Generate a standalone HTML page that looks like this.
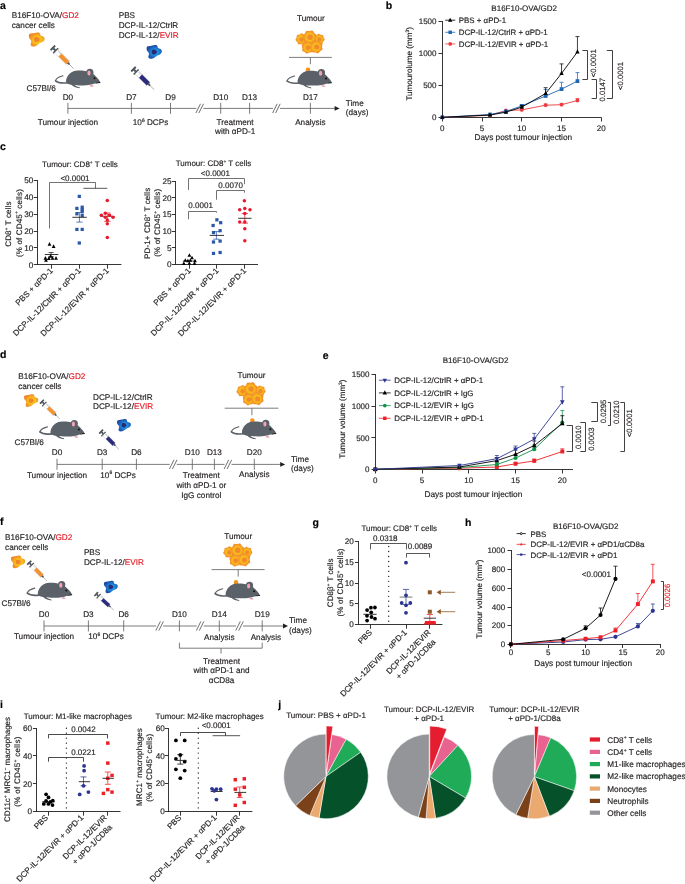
<!DOCTYPE html>
<html><head><meta charset="utf-8"><style>
html,body{margin:0;padding:0;background:#fff;overflow:hidden;}
svg{display:block;will-change:transform;}
text{font-family:"Liberation Sans",sans-serif;text-rendering:geometricPrecision;}
</style></head><body>
<svg width="685" height="884" viewBox="0 0 685 884" font-family="Liberation Sans, sans-serif" fill="#231f20">
<defs>
<radialGradient id="gOr" cx="0.55" cy="0.53" r="0.58"><stop offset="0" stop-color="#f6a81e"/><stop offset="0.28" stop-color="#f9bd1b"/><stop offset="0.45" stop-color="#f9c01a"/><stop offset="0.68" stop-color="#f59f22"/><stop offset="0.9" stop-color="#f0892a"/><stop offset="1" stop-color="#ee812a"/></radialGradient>
<radialGradient id="gBl" cx="0.55" cy="0.53" r="0.58"><stop offset="0" stop-color="#1a86d8"/><stop offset="0.35" stop-color="#1e92e0"/><stop offset="0.6" stop-color="#1d6fc6"/><stop offset="0.85" stop-color="#1b52ac"/><stop offset="1" stop-color="#1a45a0"/></radialGradient>
<radialGradient id="gTu" cx="0.5" cy="0.5" r="0.5"><stop offset="0" stop-color="#f4a020"/><stop offset="0.42" stop-color="#f9bd1a"/><stop offset="0.62" stop-color="#f8b21c"/><stop offset="0.82" stop-color="#f39627"/><stop offset="1" stop-color="#f08a2c"/></radialGradient>
</defs>
<text x="0.00" y="8.80" font-size="10.50" fill="#000" stroke="#000" stroke-width="0.16" font-weight="bold">a</text>
<text x="11.70" y="18.20" font-size="8.20" stroke="#231f20" stroke-width="0.16">B16F10-OVA/<tspan fill="#e41e2b" stroke="#e41e2b">GD2</tspan></text>
<text x="11.70" y="27.70" font-size="8.20" stroke="#231f20" stroke-width="0.16">cancer cells</text>
<path d="M28.90,35.10 C29.08,34.73 29.33,34.10 30.00,33.80 C30.67,33.50 31.88,33.48 32.90,33.30 C33.92,33.12 35.18,32.83 36.10,32.70 C37.02,32.57 37.75,32.37 38.40,32.50 C39.05,32.63 39.63,33.00 40.00,33.50 C40.37,34.00 40.07,35.00 40.60,35.50 C41.13,36.00 42.55,36.08 43.20,36.50 C43.85,36.92 44.32,37.38 44.50,38.00 C44.68,38.62 44.57,39.57 44.30,40.20 C44.03,40.83 43.62,41.32 42.90,41.80 C42.18,42.28 40.85,42.62 40.00,43.10 C39.15,43.58 38.50,44.22 37.80,44.70 C37.10,45.18 36.62,45.68 35.80,46.00 C34.98,46.32 33.70,46.63 32.90,46.60 C32.10,46.57 31.37,46.28 31.00,45.80 C30.63,45.32 30.65,44.37 30.70,43.70 C30.75,43.03 31.30,42.43 31.30,41.80 C31.30,41.17 31.05,40.53 30.70,39.90 C30.35,39.27 29.50,38.65 29.20,38.00 C28.90,37.35 28.95,36.48 28.90,36.00 C28.85,35.52 28.72,35.47 28.90,35.10 Z" fill="url(#gOr)" stroke="none" stroke-width="0.70"/>
<path d="M34.30,37.80 C34.78,37.07 36.62,36.93 37.50,37.20 C38.38,37.47 39.57,38.63 39.60,39.40 C39.63,40.17 38.53,41.43 37.70,41.80 C36.87,42.17 35.17,42.27 34.60,41.60 C34.03,40.93 33.82,38.53 34.30,37.80 Z" fill="#f08529" stroke="none" stroke-width="0.70"/>
<g transform="translate(52.60 47.60) rotate(45.00) scale(0.990)"><rect x="-0.6" y="-3.3" width="2.0" height="6.6" rx="0.5" fill="#4b5157"/><rect x="1.2" y="-1.0" width="2.6" height="2.0" fill="#4b5157"/><rect x="3.6" y="-3.6" width="1.6" height="7.2" rx="0.4" fill="#4b5157"/><rect x="5.2" y="-2.4" width="16.6" height="4.8" fill="#fff" stroke="#b9bec3" stroke-width="0.45"/><rect x="10.5" y="-2.2" width="11.2" height="4.4" fill="#f39232"/><line x1="6.8" y1="-2.3" x2="6.8" y2="-0.6" stroke="#555" stroke-width="0.35"/><line x1="8.3" y1="-2.3" x2="8.3" y2="-0.6" stroke="#555" stroke-width="0.35"/><line x1="9.8" y1="-2.3" x2="9.8" y2="-0.6" stroke="#555" stroke-width="0.35"/><path d="M21.8,-1.3 L24.4,-0.6 L24.4,0.6 L21.8,1.3 Z" fill="#4b5157"/><line x1="24.3" y1="0" x2="30" y2="0" stroke="#6a7075" stroke-width="0.55"/></g>
<g transform="translate(100.30 82.40)"><path d="M-33,0.4 C-37,0.9 -42.5,0.4 -44.8,-1.6" fill="none" stroke="#5b6168" stroke-width="1.6" stroke-linecap="round"/><path d="M-44.8,-1.6 C-44.4,-3.6 -40.5,-5.8 -37.3,-6.6" fill="none" stroke="#5b6168" stroke-width="1.1" stroke-linecap="round"/><path d="M0,0 C-0.8,-1.8 -2.0,-3.6 -3.2,-4.6 C-5,-6.6 -7,-8.6 -9.5,-9.8 C-13,-11.4 -18,-12.0 -23,-11.9 C-27.5,-11.6 -30.8,-9.3 -32.6,-6.4 C-34.2,-3.8 -34.6,-1.2 -34.0,0.6 C-31,2.6 -25,3.0 -18,3.0 C-12,3.0 -8,2.2 -5.6,1.2 C-3.5,0.6 -1.5,0.3 0,0 Z" fill="#5b6168"/><path d="M-29.5,1.5 C-27.5,4.2 -24.5,5.4 -20.5,5.8 L-20.8,4.7 C-23.5,4.3 -25.5,3.2 -26.3,1.8 Z" fill="#5b6168"/><circle cx="-10.4" cy="-10.0" r="3.6" fill="#5b6168"/><ellipse cx="-11.3" cy="-9.4" rx="1.6" ry="2.5" fill="#f0a3b4"/><circle cx="-5.8" cy="-4.1" r="1.0" fill="#111"/><path d="M-4.6,0.5 L-0.4,-0.4 L0.3,0.1 L-0.2,0.6 L-4.6,1.0 Z" fill="#111"/><ellipse cx="-8.6" cy="3.4" rx="2.0" ry="0.85" fill="#f0a3b4" transform="rotate(12 -8.6 3.4)"/></g>
<text x="26.60" y="90.90" font-size="8.20" stroke="#231f20" stroke-width="0.16">C57Bl/6</text>
<text x="118.70" y="17.80" font-size="8.20" stroke="#231f20" stroke-width="0.16">PBS</text>
<text x="118.70" y="27.70" font-size="8.20" stroke="#231f20" stroke-width="0.16">DCP-IL-12/CtrlR</text>
<text x="118.70" y="37.70" font-size="8.20" stroke="#231f20" stroke-width="0.16">DCP-IL-12/<tspan fill="#e41e2b" stroke="#e41e2b">EVIR</tspan></text>
<path d="M146.64,47.63 C146.82,47.28 147.06,46.66 147.71,46.37 C148.35,46.08 149.53,46.07 150.52,45.89 C151.51,45.71 152.73,45.44 153.62,45.31 C154.51,45.18 155.22,44.98 155.86,45.11 C156.49,45.24 157.05,45.60 157.41,46.08 C157.76,46.57 157.47,47.54 157.99,48.02 C158.51,48.51 159.88,48.59 160.51,48.99 C161.14,49.40 161.59,49.85 161.77,50.45 C161.95,51.05 161.84,51.97 161.58,52.58 C161.32,53.20 160.92,53.67 160.22,54.13 C159.52,54.60 158.23,54.93 157.41,55.40 C156.58,55.86 155.95,56.48 155.27,56.95 C154.59,57.42 154.13,57.90 153.33,58.21 C152.54,58.52 151.30,58.82 150.52,58.79 C149.74,58.76 149.03,58.48 148.68,58.01 C148.32,57.55 148.34,56.62 148.39,55.98 C148.43,55.33 148.97,54.75 148.97,54.13 C148.97,53.52 148.73,52.91 148.39,52.29 C148.05,51.68 147.22,51.08 146.93,50.45 C146.64,49.82 146.69,48.98 146.64,48.51 C146.59,48.04 146.46,47.99 146.64,47.63 Z" fill="url(#gBl)" stroke="none" stroke-width="0.70"/>
<path d="M151.88,50.25 C152.35,49.54 154.13,49.41 154.98,49.67 C155.84,49.93 156.99,51.06 157.02,51.81 C157.05,52.55 155.98,53.78 155.18,54.13 C154.37,54.49 152.72,54.59 152.17,53.94 C151.62,53.29 151.41,50.97 151.88,50.25 Z" fill="#2b2a78" stroke="none" stroke-width="0.70"/>
<g transform="translate(133.20 68.90) rotate(44.72) scale(0.981)"><rect x="-0.6" y="-3.3" width="2.0" height="6.6" rx="0.5" fill="#4b5157"/><rect x="1.2" y="-1.0" width="2.6" height="2.0" fill="#4b5157"/><rect x="3.6" y="-3.6" width="1.6" height="7.2" rx="0.4" fill="#4b5157"/><rect x="5.2" y="-2.4" width="16.6" height="4.8" fill="#fff" stroke="#b9bec3" stroke-width="0.45"/><rect x="10.5" y="-2.2" width="11.2" height="4.4" fill="#2b2a7c"/><line x1="6.8" y1="-2.3" x2="6.8" y2="-0.6" stroke="#555" stroke-width="0.35"/><line x1="8.3" y1="-2.3" x2="8.3" y2="-0.6" stroke="#555" stroke-width="0.35"/><line x1="9.8" y1="-2.3" x2="9.8" y2="-0.6" stroke="#555" stroke-width="0.35"/><path d="M21.8,-1.3 L24.4,-0.6 L24.4,0.6 L21.8,1.3 Z" fill="#4b5157"/><line x1="24.3" y1="0" x2="30" y2="0" stroke="#6a7075" stroke-width="0.55"/></g>
<line x1="67.90" y1="108.40" x2="336.00" y2="108.40" stroke="#636466" stroke-width="0.85"/>
<path d="M339.60,108.40 L334.60,106.00 L334.60,110.80 Z" fill="#231f20" stroke="none" stroke-width="0.70"/>
<line x1="67.90" y1="102.80" x2="67.90" y2="113.80" stroke="#636466" stroke-width="0.85"/>
<text x="67.90" y="99.50" font-size="8.20" text-anchor="middle" stroke="#231f20" stroke-width="0.16">D0</text>
<line x1="131.40" y1="102.80" x2="131.40" y2="113.80" stroke="#636466" stroke-width="0.85"/>
<text x="131.40" y="99.50" font-size="8.20" text-anchor="middle" stroke="#231f20" stroke-width="0.16">D7</text>
<line x1="170.50" y1="102.80" x2="170.50" y2="113.80" stroke="#636466" stroke-width="0.85"/>
<text x="170.50" y="99.50" font-size="8.20" text-anchor="middle" stroke="#231f20" stroke-width="0.16">D9</text>
<line x1="220.70" y1="102.80" x2="220.70" y2="113.80" stroke="#636466" stroke-width="0.85"/>
<text x="220.70" y="99.50" font-size="8.20" text-anchor="middle" stroke="#231f20" stroke-width="0.16">D10</text>
<line x1="249.60" y1="102.80" x2="249.60" y2="113.80" stroke="#636466" stroke-width="0.85"/>
<text x="249.60" y="99.50" font-size="8.20" text-anchor="middle" stroke="#231f20" stroke-width="0.16">D13</text>
<line x1="310.40" y1="102.80" x2="310.40" y2="113.80" stroke="#636466" stroke-width="0.85"/>
<text x="310.40" y="99.50" font-size="8.20" text-anchor="middle" stroke="#231f20" stroke-width="0.16">D17</text>
<rect x="196.30" y="107.40" width="7.00" height="2.00" fill="#fff"/>
<line x1="195.90" y1="113.00" x2="200.50" y2="103.80" stroke="#4a4b4d" stroke-width="0.80"/>
<line x1="198.90" y1="113.00" x2="203.50" y2="103.80" stroke="#4a4b4d" stroke-width="0.80"/>
<rect x="273.00" y="107.40" width="7.00" height="2.00" fill="#fff"/>
<line x1="272.60" y1="113.00" x2="277.20" y2="103.80" stroke="#4a4b4d" stroke-width="0.80"/>
<line x1="275.60" y1="113.00" x2="280.20" y2="103.80" stroke="#4a4b4d" stroke-width="0.80"/>
<text x="67.90" y="124.70" font-size="8.20" text-anchor="middle" stroke="#231f20" stroke-width="0.16">Tumour injection</text>
<text x="132.80" y="125.00" font-size="8.20" stroke="#231f20" stroke-width="0.16">10<tspan dy="-3.12" font-size="4.92">6</tspan><tspan dy="3.12"> DCPs</tspan></text>
<text x="235.10" y="124.50" font-size="8.20" text-anchor="middle" stroke="#231f20" stroke-width="0.16">Treatment</text>
<text x="235.10" y="134.00" font-size="8.20" text-anchor="middle" stroke="#231f20" stroke-width="0.16">with αPD-1</text>
<text x="310.40" y="124.90" font-size="8.20" text-anchor="middle" stroke="#231f20" stroke-width="0.16">Analysis</text>
<text x="345.80" y="105.90" font-size="8.20" stroke="#231f20" stroke-width="0.16">Time</text>
<text x="345.80" y="115.40" font-size="8.20" stroke="#231f20" stroke-width="0.16">(days)</text>
<text x="310.90" y="21.40" font-size="8.20" text-anchor="middle" stroke="#231f20" stroke-width="0.16">Tumour</text>
<path d="M307.07,40.96 C306.86,41.66 305.70,42.03 305.12,42.66 C304.53,43.28 304.25,44.46 303.57,44.73 C302.88,45.00 301.87,44.33 301.02,44.26 C300.16,44.20 299.06,44.71 298.43,44.34 C297.79,43.97 297.69,42.77 297.20,42.06 C296.72,41.35 295.63,40.81 295.53,40.08 C295.42,39.35 296.30,38.52 296.55,37.70 C296.80,36.88 296.55,35.69 297.05,35.16 C297.55,34.62 298.75,34.79 299.55,34.47 C300.35,34.16 301.12,33.22 301.85,33.28 C302.58,33.33 303.20,34.38 303.94,34.81 C304.69,35.24 305.90,35.25 306.31,35.86 C306.72,36.46 306.29,37.60 306.42,38.45 C306.55,39.30 307.29,40.25 307.07,40.96 Z" fill="url(#gTu)" stroke="none" stroke-width="0.70"/>
<circle cx="301.70" cy="39.40" r="2.27" fill="#f18a2b"/>
<path d="M322.17,43.83 C321.60,44.20 320.56,43.77 319.77,43.87 C318.98,43.96 318.08,44.63 317.43,44.41 C316.79,44.19 316.48,43.11 315.91,42.56 C315.34,42.00 314.26,41.71 314.03,41.07 C313.80,40.43 314.44,39.51 314.52,38.72 C314.61,37.93 314.16,36.90 314.51,36.32 C314.87,35.74 315.99,35.67 316.66,35.25 C317.33,34.82 317.86,33.82 318.53,33.74 C319.21,33.66 319.96,34.49 320.71,34.75 C321.46,35.00 322.57,34.80 323.05,35.27 C323.54,35.75 323.35,36.86 323.62,37.60 C323.89,38.35 324.74,39.09 324.67,39.76 C324.60,40.44 323.62,40.98 323.20,41.66 C322.79,42.34 322.74,43.46 322.17,43.83 Z" fill="url(#gTu)" stroke="none" stroke-width="0.70"/>
<circle cx="319.50" cy="39.40" r="2.10" fill="#f18a2b"/>
<path d="M306.81,53.61 C306.05,53.51 305.47,52.40 304.72,51.91 C303.98,51.42 302.72,51.34 302.33,50.69 C301.94,50.04 302.44,48.89 302.36,48.00 C302.28,47.11 301.56,46.08 301.82,45.37 C302.08,44.65 303.30,44.33 303.94,43.72 C304.58,43.10 304.94,41.89 305.66,41.65 C306.39,41.41 307.39,42.17 308.28,42.28 C309.16,42.39 310.33,41.92 310.97,42.34 C311.60,42.76 311.64,44.01 312.10,44.78 C312.57,45.54 313.66,46.16 313.73,46.91 C313.80,47.67 312.85,48.49 312.54,49.32 C312.23,50.16 312.43,51.40 311.88,51.93 C311.33,52.46 310.10,52.22 309.25,52.50 C308.41,52.78 307.56,53.71 306.81,53.61 Z" fill="url(#gTu)" stroke="none" stroke-width="0.70"/>
<circle cx="307.90" cy="47.70" r="2.35" fill="#f18a2b"/>
<path d="M304.61,41.76 C304.02,41.11 304.33,39.71 304.04,38.74 C303.75,37.76 302.71,36.77 302.85,35.91 C302.98,35.05 304.27,34.42 304.85,33.58 C305.43,32.74 305.56,31.31 306.32,30.88 C307.08,30.45 308.37,31.07 309.39,31.00 C310.40,30.93 311.61,30.14 312.41,30.46 C313.22,30.79 313.55,32.19 314.24,32.94 C314.92,33.69 316.29,34.14 316.54,34.97 C316.79,35.80 315.90,36.93 315.74,37.93 C315.58,38.94 316.09,40.29 315.59,41.00 C315.10,41.72 313.66,41.73 312.77,42.23 C311.89,42.73 311.15,43.96 310.28,44.02 C309.41,44.08 308.51,42.96 307.57,42.59 C306.62,42.21 305.20,42.40 304.61,41.76 Z" fill="url(#gTu)" stroke="none" stroke-width="0.70"/>
<circle cx="310.10" cy="37.20" r="2.69" fill="#f18a2b"/>
<path d="M309.81,47.17 C309.77,46.36 310.84,45.54 311.22,44.67 C311.60,43.79 311.46,42.45 312.07,41.92 C312.69,41.38 314.00,41.71 314.92,41.46 C315.84,41.21 316.80,40.26 317.60,40.41 C318.40,40.56 318.96,41.78 319.73,42.35 C320.50,42.91 321.84,43.07 322.22,43.79 C322.61,44.51 322.00,45.71 322.04,46.67 C322.07,47.62 322.78,48.76 322.46,49.51 C322.14,50.26 320.82,50.53 320.10,51.16 C319.38,51.79 318.92,53.05 318.13,53.27 C317.35,53.48 316.31,52.62 315.37,52.45 C314.44,52.27 313.16,52.71 312.50,52.23 C311.84,51.75 311.87,50.40 311.42,49.56 C310.98,48.71 309.84,47.99 309.81,47.17 Z" fill="url(#gTu)" stroke="none" stroke-width="0.70"/>
<circle cx="316.70" cy="47.10" r="2.52" fill="#f18a2b"/>
<line x1="289.00" y1="57.40" x2="331.80" y2="57.40" stroke="#636466" stroke-width="0.85"/>
<line x1="310.40" y1="57.40" x2="310.40" y2="64.20" stroke="#636466" stroke-width="0.85"/>
<g transform="translate(331.85 82.60)"><path d="M-33,0.4 C-37,0.9 -42.5,0.4 -44.8,-1.6" fill="none" stroke="#5b6168" stroke-width="1.6" stroke-linecap="round"/><path d="M-44.8,-1.6 C-44.4,-3.6 -40.5,-5.8 -37.3,-6.6" fill="none" stroke="#5b6168" stroke-width="1.1" stroke-linecap="round"/><circle cx="-23.9" cy="-12.9" r="2.3" fill="#f7941d"/><path d="M0,0 C-0.8,-1.8 -2.0,-3.6 -3.2,-4.6 C-5,-6.6 -7,-8.6 -9.5,-9.8 C-13,-11.4 -18,-12.0 -23,-11.9 C-27.5,-11.6 -30.8,-9.3 -32.6,-6.4 C-34.2,-3.8 -34.6,-1.2 -34.0,0.6 C-31,2.6 -25,3.0 -18,3.0 C-12,3.0 -8,2.2 -5.6,1.2 C-3.5,0.6 -1.5,0.3 0,0 Z" fill="#5b6168"/><path d="M-29.5,1.5 C-27.5,4.2 -24.5,5.4 -20.5,5.8 L-20.8,4.7 C-23.5,4.3 -25.5,3.2 -26.3,1.8 Z" fill="#5b6168"/><circle cx="-10.4" cy="-10.0" r="3.6" fill="#5b6168"/><ellipse cx="-11.3" cy="-9.4" rx="1.6" ry="2.5" fill="#f0a3b4"/><circle cx="-5.8" cy="-4.1" r="1.0" fill="#111"/><path d="M-4.6,0.5 L-0.4,-0.4 L0.3,0.1 L-0.2,0.6 L-4.6,1.0 Z" fill="#111"/><ellipse cx="-8.6" cy="3.4" rx="2.0" ry="0.85" fill="#f0a3b4" transform="rotate(12 -8.6 3.4)"/></g>
<text x="0.00" y="358.20" font-size="10.50" fill="#000" stroke="#000" stroke-width="0.16" font-weight="bold">d</text>
<text x="18.20" y="378.70" font-size="8.20" stroke="#231f20" stroke-width="0.16">B16F10-OVA/<tspan fill="#e41e2b" stroke="#e41e2b">GD2</tspan></text>
<text x="18.20" y="388.50" font-size="8.20" stroke="#231f20" stroke-width="0.16">cancer cells</text>
<path d="M24.10,396.55 C24.27,396.22 24.49,395.65 25.09,395.38 C25.69,395.11 26.79,395.10 27.70,394.93 C28.61,394.76 29.76,394.51 30.58,394.39 C31.41,394.27 32.06,394.09 32.65,394.21 C33.23,394.33 33.76,394.66 34.09,395.11 C34.42,395.56 34.15,396.46 34.63,396.91 C35.11,397.36 36.38,397.44 36.97,397.81 C37.55,398.19 37.98,398.61 38.14,399.16 C38.30,399.72 38.20,400.57 37.96,401.14 C37.72,401.71 37.34,402.15 36.70,402.58 C36.06,403.02 34.86,403.31 34.09,403.75 C33.33,404.19 32.74,404.75 32.11,405.19 C31.48,405.62 31.05,406.07 30.31,406.36 C29.58,406.65 28.42,406.93 27.70,406.90 C26.98,406.87 26.32,406.62 25.99,406.18 C25.66,405.75 25.67,404.89 25.72,404.29 C25.77,403.69 26.26,403.15 26.26,402.58 C26.26,402.01 26.04,401.44 25.72,400.87 C25.40,400.30 24.64,399.75 24.37,399.16 C24.10,398.58 24.15,397.80 24.10,397.36 C24.05,396.93 23.94,396.88 24.10,396.55 Z" fill="url(#gOr)" stroke="none" stroke-width="0.70"/>
<path d="M28.96,398.98 C29.39,398.32 31.04,398.20 31.84,398.44 C32.63,398.68 33.70,399.73 33.73,400.42 C33.76,401.11 32.77,402.25 32.02,402.58 C31.27,402.91 29.74,403.00 29.23,402.40 C28.72,401.80 28.53,399.64 28.96,398.98 Z" fill="#f08529" stroke="none" stroke-width="0.70"/>
<g transform="translate(41.70 401.50) rotate(43.87) scale(0.837)"><rect x="-0.6" y="-3.3" width="2.0" height="6.6" rx="0.5" fill="#4b5157"/><rect x="1.2" y="-1.0" width="2.6" height="2.0" fill="#4b5157"/><rect x="3.6" y="-3.6" width="1.6" height="7.2" rx="0.4" fill="#4b5157"/><rect x="5.2" y="-2.4" width="16.6" height="4.8" fill="#fff" stroke="#b9bec3" stroke-width="0.45"/><rect x="10.5" y="-2.2" width="11.2" height="4.4" fill="#f39232"/><line x1="6.8" y1="-2.3" x2="6.8" y2="-0.6" stroke="#555" stroke-width="0.35"/><line x1="8.3" y1="-2.3" x2="8.3" y2="-0.6" stroke="#555" stroke-width="0.35"/><line x1="9.8" y1="-2.3" x2="9.8" y2="-0.6" stroke="#555" stroke-width="0.35"/><path d="M21.8,-1.3 L24.4,-0.6 L24.4,0.6 L21.8,1.3 Z" fill="#4b5157"/><line x1="24.3" y1="0" x2="30" y2="0" stroke="#6a7075" stroke-width="0.55"/></g>
<g transform="translate(84.70 433.50)"><path d="M-33,0.4 C-37,0.9 -42.5,0.4 -44.8,-1.6" fill="none" stroke="#5b6168" stroke-width="1.6" stroke-linecap="round"/><path d="M-44.8,-1.6 C-44.4,-3.6 -40.5,-5.8 -37.3,-6.6" fill="none" stroke="#5b6168" stroke-width="1.1" stroke-linecap="round"/><path d="M0,0 C-0.8,-1.8 -2.0,-3.6 -3.2,-4.6 C-5,-6.6 -7,-8.6 -9.5,-9.8 C-13,-11.4 -18,-12.0 -23,-11.9 C-27.5,-11.6 -30.8,-9.3 -32.6,-6.4 C-34.2,-3.8 -34.6,-1.2 -34.0,0.6 C-31,2.6 -25,3.0 -18,3.0 C-12,3.0 -8,2.2 -5.6,1.2 C-3.5,0.6 -1.5,0.3 0,0 Z" fill="#5b6168"/><path d="M-29.5,1.5 C-27.5,4.2 -24.5,5.4 -20.5,5.8 L-20.8,4.7 C-23.5,4.3 -25.5,3.2 -26.3,1.8 Z" fill="#5b6168"/><circle cx="-10.4" cy="-10.0" r="3.6" fill="#5b6168"/><ellipse cx="-11.3" cy="-9.4" rx="1.6" ry="2.5" fill="#f0a3b4"/><circle cx="-5.8" cy="-4.1" r="1.0" fill="#111"/><path d="M-4.6,0.5 L-0.4,-0.4 L0.3,0.1 L-0.2,0.6 L-4.6,1.0 Z" fill="#111"/><ellipse cx="-8.6" cy="3.4" rx="2.0" ry="0.85" fill="#f0a3b4" transform="rotate(12 -8.6 3.4)"/></g>
<text x="14.60" y="444.70" font-size="8.20" stroke="#231f20" stroke-width="0.16">C57Bl/6</text>
<text x="93.00" y="399.70" font-size="8.20" stroke="#231f20" stroke-width="0.16">DCP-IL-12/CtrlR</text>
<text x="93.00" y="409.20" font-size="8.20" stroke="#231f20" stroke-width="0.16">DCP-IL-12/<tspan fill="#e41e2b" stroke="#e41e2b">EVIR</tspan></text>
<path d="M117.06,421.34 C117.22,421.02 117.44,420.46 118.03,420.20 C118.61,419.93 119.69,419.92 120.58,419.76 C121.47,419.59 122.59,419.35 123.40,419.23 C124.20,419.11 124.85,418.93 125.42,419.05 C125.99,419.17 126.51,419.49 126.83,419.93 C127.15,420.37 126.89,421.25 127.36,421.69 C127.83,422.13 129.07,422.21 129.64,422.57 C130.22,422.94 130.63,423.35 130.79,423.89 C130.95,424.43 130.85,425.27 130.61,425.83 C130.38,426.39 130.01,426.81 129.38,427.24 C128.75,427.66 127.58,427.95 126.83,428.38 C126.08,428.81 125.51,429.36 124.89,429.79 C124.28,430.21 123.85,430.65 123.13,430.93 C122.41,431.21 121.28,431.49 120.58,431.46 C119.88,431.43 119.23,431.18 118.91,430.76 C118.59,430.33 118.60,429.49 118.64,428.91 C118.69,428.32 119.17,427.79 119.17,427.24 C119.17,426.68 118.95,426.12 118.64,425.56 C118.34,425.01 117.59,424.46 117.32,423.89 C117.06,423.32 117.10,422.56 117.06,422.13 C117.02,421.71 116.90,421.66 117.06,421.34 Z" fill="url(#gBl)" stroke="none" stroke-width="0.70"/>
<path d="M121.81,423.72 C122.24,423.07 123.85,422.95 124.63,423.19 C125.41,423.42 126.45,424.45 126.48,425.12 C126.51,425.80 125.54,426.91 124.80,427.24 C124.07,427.56 122.57,427.65 122.08,427.06 C121.58,426.47 121.39,424.36 121.81,423.72 Z" fill="#2b2a78" stroke="none" stroke-width="0.70"/>
<g transform="translate(100.90 431.40) rotate(44.84) scale(0.846)"><rect x="-0.6" y="-3.3" width="2.0" height="6.6" rx="0.5" fill="#4b5157"/><rect x="1.2" y="-1.0" width="2.6" height="2.0" fill="#4b5157"/><rect x="3.6" y="-3.6" width="1.6" height="7.2" rx="0.4" fill="#4b5157"/><rect x="5.2" y="-2.4" width="16.6" height="4.8" fill="#fff" stroke="#b9bec3" stroke-width="0.45"/><rect x="10.5" y="-2.2" width="11.2" height="4.4" fill="#2b2a7c"/><line x1="6.8" y1="-2.3" x2="6.8" y2="-0.6" stroke="#555" stroke-width="0.35"/><line x1="8.3" y1="-2.3" x2="8.3" y2="-0.6" stroke="#555" stroke-width="0.35"/><line x1="9.8" y1="-2.3" x2="9.8" y2="-0.6" stroke="#555" stroke-width="0.35"/><path d="M21.8,-1.3 L24.4,-0.6 L24.4,0.6 L21.8,1.3 Z" fill="#4b5157"/><line x1="24.3" y1="0" x2="30" y2="0" stroke="#6a7075" stroke-width="0.55"/></g>
<line x1="57.00" y1="464.40" x2="281.50" y2="464.40" stroke="#636466" stroke-width="0.85"/>
<path d="M285.20,464.40 L280.20,462.00 L280.20,466.80 Z" fill="#231f20" stroke="none" stroke-width="0.70"/>
<line x1="57.00" y1="458.80" x2="57.00" y2="469.80" stroke="#636466" stroke-width="0.85"/>
<text x="57.00" y="455.30" font-size="8.20" text-anchor="middle" stroke="#231f20" stroke-width="0.16">D0</text>
<line x1="102.20" y1="458.80" x2="102.20" y2="469.80" stroke="#636466" stroke-width="0.85"/>
<text x="102.20" y="455.30" font-size="8.20" text-anchor="middle" stroke="#231f20" stroke-width="0.16">D3</text>
<line x1="136.40" y1="458.80" x2="136.40" y2="469.80" stroke="#636466" stroke-width="0.85"/>
<text x="136.40" y="455.30" font-size="8.20" text-anchor="middle" stroke="#231f20" stroke-width="0.16">D6</text>
<line x1="192.30" y1="458.80" x2="192.30" y2="469.80" stroke="#636466" stroke-width="0.85"/>
<text x="192.30" y="455.30" font-size="8.20" text-anchor="middle" stroke="#231f20" stroke-width="0.16">D10</text>
<line x1="214.40" y1="458.80" x2="214.40" y2="469.80" stroke="#636466" stroke-width="0.85"/>
<text x="214.40" y="455.30" font-size="8.20" text-anchor="middle" stroke="#231f20" stroke-width="0.16">D13</text>
<line x1="254.30" y1="458.80" x2="254.30" y2="469.80" stroke="#636466" stroke-width="0.85"/>
<text x="254.30" y="455.30" font-size="8.20" text-anchor="middle" stroke="#231f20" stroke-width="0.16">D20</text>
<rect x="169.80" y="463.40" width="7.00" height="2.00" fill="#fff"/>
<line x1="169.40" y1="469.00" x2="174.00" y2="459.80" stroke="#4a4b4d" stroke-width="0.80"/>
<line x1="172.40" y1="469.00" x2="177.00" y2="459.80" stroke="#4a4b4d" stroke-width="0.80"/>
<rect x="224.50" y="463.40" width="7.00" height="2.00" fill="#fff"/>
<line x1="224.10" y1="469.00" x2="228.70" y2="459.80" stroke="#4a4b4d" stroke-width="0.80"/>
<line x1="227.10" y1="469.00" x2="231.70" y2="459.80" stroke="#4a4b4d" stroke-width="0.80"/>
<text x="57.00" y="477.60" font-size="8.20" text-anchor="middle" stroke="#231f20" stroke-width="0.16">Tumour injection</text>
<text x="100.30" y="477.50" font-size="8.20" stroke="#231f20" stroke-width="0.16">10<tspan dy="-3.12" font-size="4.92">6</tspan><tspan dy="3.12"> DCPs</tspan></text>
<text x="201.30" y="477.60" font-size="8.20" text-anchor="middle" stroke="#231f20" stroke-width="0.16">Treatment</text>
<text x="201.30" y="487.70" font-size="8.20" text-anchor="middle" stroke="#231f20" stroke-width="0.16">with αPD-1 or</text>
<text x="201.30" y="497.60" font-size="8.20" text-anchor="middle" stroke="#231f20" stroke-width="0.16">IgG control</text>
<text x="254.30" y="477.20" font-size="8.20" text-anchor="middle" stroke="#231f20" stroke-width="0.16">Analysis</text>
<text x="291.10" y="461.80" font-size="8.20" stroke="#231f20" stroke-width="0.16">Time</text>
<text x="291.10" y="470.60" font-size="8.20" stroke="#231f20" stroke-width="0.16">(days)</text>
<text x="251.50" y="377.50" font-size="8.20" text-anchor="middle" stroke="#231f20" stroke-width="0.16">Tumour</text>
<path d="M248.07,392.76 C247.86,393.46 246.70,393.83 246.12,394.46 C245.53,395.08 245.25,396.26 244.57,396.53 C243.88,396.80 242.87,396.13 242.02,396.06 C241.16,396.00 240.06,396.51 239.43,396.14 C238.79,395.77 238.69,394.57 238.20,393.86 C237.72,393.15 236.63,392.61 236.53,391.88 C236.42,391.15 237.30,390.32 237.55,389.50 C237.80,388.68 237.55,387.49 238.05,386.96 C238.55,386.42 239.75,386.59 240.55,386.27 C241.35,385.96 242.12,385.02 242.85,385.08 C243.58,385.13 244.20,386.18 244.94,386.61 C245.69,387.04 246.90,387.05 247.31,387.66 C247.72,388.26 247.29,389.40 247.42,390.25 C247.55,391.10 248.29,392.05 248.07,392.76 Z" fill="url(#gTu)" stroke="none" stroke-width="0.70"/>
<circle cx="242.70" cy="391.20" r="2.27" fill="#f18a2b"/>
<path d="M263.17,395.63 C262.60,396.00 261.56,395.57 260.77,395.67 C259.98,395.76 259.08,396.43 258.43,396.21 C257.79,395.99 257.48,394.91 256.91,394.36 C256.34,393.80 255.26,393.51 255.03,392.87 C254.80,392.23 255.44,391.31 255.52,390.52 C255.61,389.73 255.16,388.70 255.51,388.12 C255.87,387.54 256.99,387.47 257.66,387.05 C258.33,386.62 258.86,385.62 259.53,385.54 C260.21,385.46 260.96,386.29 261.71,386.55 C262.46,386.80 263.57,386.60 264.05,387.07 C264.54,387.55 264.35,388.66 264.62,389.40 C264.89,390.15 265.74,390.89 265.67,391.56 C265.60,392.24 264.62,392.78 264.20,393.46 C263.79,394.14 263.74,395.26 263.17,395.63 Z" fill="url(#gTu)" stroke="none" stroke-width="0.70"/>
<circle cx="260.50" cy="391.20" r="2.10" fill="#f18a2b"/>
<path d="M247.81,405.41 C247.05,405.31 246.47,404.20 245.72,403.71 C244.98,403.22 243.72,403.14 243.33,402.49 C242.94,401.84 243.44,400.69 243.36,399.80 C243.28,398.91 242.56,397.88 242.82,397.17 C243.08,396.45 244.30,396.13 244.94,395.52 C245.58,394.90 245.94,393.69 246.66,393.45 C247.39,393.21 248.39,393.97 249.28,394.08 C250.16,394.19 251.33,393.72 251.97,394.14 C252.60,394.56 252.64,395.81 253.10,396.58 C253.57,397.34 254.66,397.96 254.73,398.71 C254.80,399.47 253.85,400.29 253.54,401.12 C253.23,401.96 253.43,403.20 252.88,403.73 C252.33,404.26 251.10,404.02 250.25,404.30 C249.41,404.58 248.56,405.51 247.81,405.41 Z" fill="url(#gTu)" stroke="none" stroke-width="0.70"/>
<circle cx="248.90" cy="399.50" r="2.35" fill="#f18a2b"/>
<path d="M245.61,393.56 C245.02,392.91 245.33,391.51 245.04,390.54 C244.75,389.56 243.71,388.57 243.85,387.71 C243.98,386.85 245.27,386.22 245.85,385.38 C246.43,384.54 246.56,383.11 247.32,382.68 C248.08,382.25 249.37,382.87 250.39,382.80 C251.40,382.73 252.61,381.94 253.41,382.26 C254.22,382.59 254.55,383.99 255.24,384.74 C255.92,385.49 257.29,385.94 257.54,386.77 C257.79,387.60 256.90,388.73 256.74,389.73 C256.58,390.74 257.09,392.09 256.59,392.80 C256.10,393.52 254.66,393.53 253.77,394.03 C252.89,394.53 252.15,395.76 251.28,395.82 C250.41,395.88 249.51,394.76 248.57,394.39 C247.62,394.01 246.20,394.20 245.61,393.56 Z" fill="url(#gTu)" stroke="none" stroke-width="0.70"/>
<circle cx="251.10" cy="389.00" r="2.69" fill="#f18a2b"/>
<path d="M250.81,398.97 C250.77,398.16 251.84,397.34 252.22,396.47 C252.60,395.59 252.46,394.25 253.07,393.72 C253.69,393.18 255.00,393.51 255.92,393.26 C256.84,393.01 257.80,392.06 258.60,392.21 C259.40,392.36 259.96,393.58 260.73,394.15 C261.50,394.71 262.84,394.87 263.22,395.59 C263.61,396.31 263.00,397.51 263.04,398.47 C263.07,399.42 263.78,400.56 263.46,401.31 C263.14,402.06 261.82,402.33 261.10,402.96 C260.38,403.59 259.92,404.85 259.13,405.07 C258.35,405.28 257.31,404.42 256.37,404.25 C255.44,404.07 254.16,404.51 253.50,404.03 C252.84,403.55 252.87,402.20 252.42,401.36 C251.98,400.51 250.84,399.79 250.81,398.97 Z" fill="url(#gTu)" stroke="none" stroke-width="0.70"/>
<circle cx="257.70" cy="398.90" r="2.52" fill="#f18a2b"/>
<line x1="224.70" y1="408.20" x2="278.40" y2="408.20" stroke="#636466" stroke-width="0.85"/>
<line x1="251.90" y1="408.20" x2="251.90" y2="415.20" stroke="#636466" stroke-width="0.85"/>
<g transform="translate(276.20 433.40)"><path d="M-33,0.4 C-37,0.9 -42.5,0.4 -44.8,-1.6" fill="none" stroke="#5b6168" stroke-width="1.6" stroke-linecap="round"/><path d="M-44.8,-1.6 C-44.4,-3.6 -40.5,-5.8 -37.3,-6.6" fill="none" stroke="#5b6168" stroke-width="1.1" stroke-linecap="round"/><circle cx="-23.9" cy="-12.9" r="2.3" fill="#f7941d"/><path d="M0,0 C-0.8,-1.8 -2.0,-3.6 -3.2,-4.6 C-5,-6.6 -7,-8.6 -9.5,-9.8 C-13,-11.4 -18,-12.0 -23,-11.9 C-27.5,-11.6 -30.8,-9.3 -32.6,-6.4 C-34.2,-3.8 -34.6,-1.2 -34.0,0.6 C-31,2.6 -25,3.0 -18,3.0 C-12,3.0 -8,2.2 -5.6,1.2 C-3.5,0.6 -1.5,0.3 0,0 Z" fill="#5b6168"/><path d="M-29.5,1.5 C-27.5,4.2 -24.5,5.4 -20.5,5.8 L-20.8,4.7 C-23.5,4.3 -25.5,3.2 -26.3,1.8 Z" fill="#5b6168"/><circle cx="-10.4" cy="-10.0" r="3.6" fill="#5b6168"/><ellipse cx="-11.3" cy="-9.4" rx="1.6" ry="2.5" fill="#f0a3b4"/><circle cx="-5.8" cy="-4.1" r="1.0" fill="#111"/><path d="M-4.6,0.5 L-0.4,-0.4 L0.3,0.1 L-0.2,0.6 L-4.6,1.0 Z" fill="#111"/><ellipse cx="-8.6" cy="3.4" rx="2.0" ry="0.85" fill="#f0a3b4" transform="rotate(12 -8.6 3.4)"/></g>
<text x="0.00" y="525.40" font-size="10.50" fill="#000" stroke="#000" stroke-width="0.16" font-weight="bold">f</text>
<text x="5.10" y="540.30" font-size="8.20" stroke="#231f20" stroke-width="0.16">B16F10-OVA/<tspan fill="#e41e2b" stroke="#e41e2b">GD2</tspan></text>
<text x="5.10" y="550.00" font-size="8.20" stroke="#231f20" stroke-width="0.16">cancer cells</text>
<path d="M11.00,557.85 C11.16,557.52 11.39,556.95 11.99,556.68 C12.59,556.41 13.68,556.39 14.60,556.23 C15.52,556.07 16.66,555.81 17.48,555.69 C18.30,555.57 18.96,555.39 19.55,555.51 C20.14,555.63 20.66,555.96 20.99,556.41 C21.32,556.86 21.05,557.76 21.53,558.21 C22.01,558.66 23.28,558.74 23.87,559.11 C24.45,559.49 24.88,559.90 25.04,560.46 C25.20,561.01 25.10,561.87 24.86,562.44 C24.62,563.01 24.25,563.44 23.60,563.88 C22.96,564.32 21.75,564.62 20.99,565.05 C20.22,565.48 19.64,566.06 19.01,566.49 C18.38,566.92 17.95,567.38 17.21,567.66 C16.48,567.94 15.32,568.23 14.60,568.20 C13.88,568.17 13.22,567.91 12.89,567.48 C12.56,567.05 12.57,566.19 12.62,565.59 C12.66,564.99 13.16,564.45 13.16,563.88 C13.16,563.31 12.93,562.74 12.62,562.17 C12.30,561.60 11.54,561.04 11.27,560.46 C11.00,559.87 11.04,559.09 11.00,558.66 C10.96,558.23 10.84,558.18 11.00,557.85 Z" fill="url(#gOr)" stroke="none" stroke-width="0.70"/>
<path d="M15.86,560.28 C16.29,559.62 17.95,559.50 18.74,559.74 C19.53,559.98 20.60,561.03 20.63,561.72 C20.66,562.41 19.67,563.55 18.92,563.88 C18.17,564.21 16.64,564.30 16.13,563.70 C15.62,563.10 15.42,560.94 15.86,560.28 Z" fill="#f08529" stroke="none" stroke-width="0.70"/>
<g transform="translate(29.00 562.50) rotate(45.63) scale(0.858)"><rect x="-0.6" y="-3.3" width="2.0" height="6.6" rx="0.5" fill="#4b5157"/><rect x="1.2" y="-1.0" width="2.6" height="2.0" fill="#4b5157"/><rect x="3.6" y="-3.6" width="1.6" height="7.2" rx="0.4" fill="#4b5157"/><rect x="5.2" y="-2.4" width="16.6" height="4.8" fill="#fff" stroke="#b9bec3" stroke-width="0.45"/><rect x="10.5" y="-2.2" width="11.2" height="4.4" fill="#f39232"/><line x1="6.8" y1="-2.3" x2="6.8" y2="-0.6" stroke="#555" stroke-width="0.35"/><line x1="8.3" y1="-2.3" x2="8.3" y2="-0.6" stroke="#555" stroke-width="0.35"/><line x1="9.8" y1="-2.3" x2="9.8" y2="-0.6" stroke="#555" stroke-width="0.35"/><path d="M21.8,-1.3 L24.4,-0.6 L24.4,0.6 L21.8,1.3 Z" fill="#4b5157"/><line x1="24.3" y1="0" x2="30" y2="0" stroke="#6a7075" stroke-width="0.55"/></g>
<g transform="translate(72.10 594.70)"><path d="M-33,0.4 C-37,0.9 -42.5,0.4 -44.8,-1.6" fill="none" stroke="#5b6168" stroke-width="1.6" stroke-linecap="round"/><path d="M-44.8,-1.6 C-44.4,-3.6 -40.5,-5.8 -37.3,-6.6" fill="none" stroke="#5b6168" stroke-width="1.1" stroke-linecap="round"/><path d="M0,0 C-0.8,-1.8 -2.0,-3.6 -3.2,-4.6 C-5,-6.6 -7,-8.6 -9.5,-9.8 C-13,-11.4 -18,-12.0 -23,-11.9 C-27.5,-11.6 -30.8,-9.3 -32.6,-6.4 C-34.2,-3.8 -34.6,-1.2 -34.0,0.6 C-31,2.6 -25,3.0 -18,3.0 C-12,3.0 -8,2.2 -5.6,1.2 C-3.5,0.6 -1.5,0.3 0,0 Z" fill="#5b6168"/><path d="M-29.5,1.5 C-27.5,4.2 -24.5,5.4 -20.5,5.8 L-20.8,4.7 C-23.5,4.3 -25.5,3.2 -26.3,1.8 Z" fill="#5b6168"/><circle cx="-10.4" cy="-10.0" r="3.6" fill="#5b6168"/><ellipse cx="-11.3" cy="-9.4" rx="1.6" ry="2.5" fill="#f0a3b4"/><circle cx="-5.8" cy="-4.1" r="1.0" fill="#111"/><path d="M-4.6,0.5 L-0.4,-0.4 L0.3,0.1 L-0.2,0.6 L-4.6,1.0 Z" fill="#111"/><ellipse cx="-8.6" cy="3.4" rx="2.0" ry="0.85" fill="#f0a3b4" transform="rotate(12 -8.6 3.4)"/></g>
<text x="1.50" y="606.40" font-size="8.20" stroke="#231f20" stroke-width="0.16">C57Bl/6</text>
<text x="83.90" y="555.40" font-size="8.20" stroke="#231f20" stroke-width="0.16">PBS</text>
<text x="83.90" y="564.60" font-size="8.20" stroke="#231f20" stroke-width="0.16">DCP-IL-12/<tspan fill="#e41e2b" stroke="#e41e2b">EVIR</tspan></text>
<path d="M103.96,583.04 C104.12,582.72 104.34,582.16 104.93,581.90 C105.51,581.63 106.59,581.62 107.48,581.46 C108.37,581.29 109.49,581.05 110.30,580.93 C111.10,580.81 111.75,580.63 112.32,580.75 C112.89,580.87 113.41,581.19 113.73,581.63 C114.05,582.07 113.79,582.95 114.26,583.39 C114.73,583.83 115.97,583.91 116.54,584.27 C117.12,584.64 117.53,585.05 117.69,585.59 C117.85,586.13 117.75,586.97 117.51,587.53 C117.28,588.09 116.91,588.51 116.28,588.94 C115.65,589.36 114.48,589.65 113.73,590.08 C112.98,590.51 112.41,591.06 111.79,591.49 C111.18,591.91 110.75,592.35 110.03,592.63 C109.31,592.91 108.18,593.19 107.48,593.16 C106.78,593.13 106.13,592.88 105.81,592.46 C105.49,592.03 105.50,591.19 105.54,590.61 C105.59,590.02 106.07,589.49 106.07,588.94 C106.07,588.38 105.85,587.82 105.54,587.26 C105.24,586.71 104.49,586.16 104.22,585.59 C103.96,585.02 104.00,584.26 103.96,583.83 C103.92,583.41 103.80,583.36 103.96,583.04 Z" fill="url(#gBl)" stroke="none" stroke-width="0.70"/>
<path d="M108.71,585.42 C109.14,584.77 110.75,584.65 111.53,584.89 C112.31,585.12 113.35,586.15 113.38,586.82 C113.41,587.50 112.44,588.61 111.70,588.94 C110.97,589.26 109.47,589.35 108.98,588.76 C108.48,588.17 108.29,586.06 108.71,585.42 Z" fill="#2b2a78" stroke="none" stroke-width="0.70"/>
<g transform="translate(96.00 593.80) rotate(42.50) scale(0.809)"><rect x="-0.6" y="-3.3" width="2.0" height="6.6" rx="0.5" fill="#4b5157"/><rect x="1.2" y="-1.0" width="2.6" height="2.0" fill="#4b5157"/><rect x="3.6" y="-3.6" width="1.6" height="7.2" rx="0.4" fill="#4b5157"/><rect x="5.2" y="-2.4" width="16.6" height="4.8" fill="#fff" stroke="#b9bec3" stroke-width="0.45"/><rect x="10.5" y="-2.2" width="11.2" height="4.4" fill="#2b2a7c"/><line x1="6.8" y1="-2.3" x2="6.8" y2="-0.6" stroke="#555" stroke-width="0.35"/><line x1="8.3" y1="-2.3" x2="8.3" y2="-0.6" stroke="#555" stroke-width="0.35"/><line x1="9.8" y1="-2.3" x2="9.8" y2="-0.6" stroke="#555" stroke-width="0.35"/><path d="M21.8,-1.3 L24.4,-0.6 L24.4,0.6 L21.8,1.3 Z" fill="#4b5157"/><line x1="24.3" y1="0" x2="30" y2="0" stroke="#6a7075" stroke-width="0.55"/></g>
<line x1="44.00" y1="626.00" x2="284.30" y2="626.00" stroke="#636466" stroke-width="0.85"/>
<path d="M288.00,626.00 L283.00,623.60 L283.00,628.40 Z" fill="#231f20" stroke="none" stroke-width="0.70"/>
<line x1="44.00" y1="620.40" x2="44.00" y2="631.40" stroke="#636466" stroke-width="0.85"/>
<text x="44.00" y="616.70" font-size="8.20" text-anchor="middle" stroke="#231f20" stroke-width="0.16">D0</text>
<line x1="88.40" y1="620.40" x2="88.40" y2="631.40" stroke="#636466" stroke-width="0.85"/>
<text x="88.40" y="616.70" font-size="8.20" text-anchor="middle" stroke="#231f20" stroke-width="0.16">D3</text>
<line x1="123.70" y1="620.40" x2="123.70" y2="631.40" stroke="#636466" stroke-width="0.85"/>
<text x="123.70" y="616.70" font-size="8.20" text-anchor="middle" stroke="#231f20" stroke-width="0.16">D6</text>
<line x1="179.40" y1="620.40" x2="179.40" y2="631.40" stroke="#636466" stroke-width="0.85"/>
<text x="179.40" y="616.70" font-size="8.20" text-anchor="middle" stroke="#231f20" stroke-width="0.16">D10</text>
<line x1="219.30" y1="620.40" x2="219.30" y2="631.40" stroke="#636466" stroke-width="0.85"/>
<text x="219.30" y="616.70" font-size="8.20" text-anchor="middle" stroke="#231f20" stroke-width="0.16">D14</text>
<line x1="262.20" y1="620.40" x2="262.20" y2="631.40" stroke="#636466" stroke-width="0.85"/>
<text x="262.20" y="616.70" font-size="8.20" text-anchor="middle" stroke="#231f20" stroke-width="0.16">D19</text>
<rect x="156.20" y="625.00" width="7.00" height="2.00" fill="#fff"/>
<line x1="155.80" y1="630.60" x2="160.40" y2="621.40" stroke="#4a4b4d" stroke-width="0.80"/>
<line x1="158.80" y1="630.60" x2="163.40" y2="621.40" stroke="#4a4b4d" stroke-width="0.80"/>
<rect x="196.70" y="625.00" width="7.00" height="2.00" fill="#fff"/>
<line x1="196.30" y1="630.60" x2="200.90" y2="621.40" stroke="#4a4b4d" stroke-width="0.80"/>
<line x1="199.30" y1="630.60" x2="203.90" y2="621.40" stroke="#4a4b4d" stroke-width="0.80"/>
<rect x="236.10" y="625.00" width="7.00" height="2.00" fill="#fff"/>
<line x1="235.70" y1="630.60" x2="240.30" y2="621.40" stroke="#4a4b4d" stroke-width="0.80"/>
<line x1="238.70" y1="630.60" x2="243.30" y2="621.40" stroke="#4a4b4d" stroke-width="0.80"/>
<text x="44.00" y="639.30" font-size="8.20" text-anchor="middle" stroke="#231f20" stroke-width="0.16">Tumour injection</text>
<text x="88.30" y="639.30" font-size="8.20" stroke="#231f20" stroke-width="0.16">10<tspan dy="-3.12" font-size="4.92">6</tspan><tspan dy="3.12"> DCPs</tspan></text>
<text x="219.30" y="640.40" font-size="8.20" text-anchor="middle" stroke="#231f20" stroke-width="0.16">Analysis</text>
<text x="265.90" y="640.40" font-size="8.20" text-anchor="middle" stroke="#231f20" stroke-width="0.16">Analysis</text>
<polyline points="179.40,642.70 179.40,648.20 262.20,648.20 262.20,642.70" fill="none" stroke="#636466" stroke-width="0.85"/>
<line x1="221.00" y1="648.20" x2="221.00" y2="653.60" stroke="#636466" stroke-width="0.85"/>
<text x="221.50" y="663.50" font-size="8.20" text-anchor="middle" stroke="#231f20" stroke-width="0.16">Treatment</text>
<text x="221.50" y="673.40" font-size="8.20" text-anchor="middle" stroke="#231f20" stroke-width="0.16">with αPD-1 and</text>
<text x="221.50" y="683.40" font-size="8.20" text-anchor="middle" stroke="#231f20" stroke-width="0.16">αCD8a</text>
<text x="289.10" y="623.30" font-size="8.20" stroke="#231f20" stroke-width="0.16">Time</text>
<text x="289.10" y="633.10" font-size="8.20" stroke="#231f20" stroke-width="0.16">(days)</text>
<text x="238.20" y="538.50" font-size="8.20" text-anchor="middle" stroke="#231f20" stroke-width="0.16">Tumour</text>
<path d="M234.77,553.96 C234.56,554.66 233.40,555.03 232.82,555.66 C232.23,556.28 231.95,557.46 231.27,557.73 C230.58,558.00 229.57,557.33 228.72,557.26 C227.86,557.20 226.76,557.71 226.13,557.34 C225.49,556.97 225.39,555.77 224.90,555.06 C224.42,554.35 223.33,553.81 223.23,553.08 C223.12,552.35 224.00,551.52 224.25,550.70 C224.50,549.88 224.25,548.69 224.75,548.16 C225.25,547.62 226.45,547.79 227.25,547.47 C228.05,547.16 228.82,546.22 229.55,546.28 C230.28,546.33 230.90,547.38 231.64,547.81 C232.39,548.24 233.60,548.25 234.01,548.86 C234.42,549.46 233.99,550.60 234.12,551.45 C234.25,552.30 234.99,553.25 234.77,553.96 Z" fill="url(#gTu)" stroke="none" stroke-width="0.70"/>
<circle cx="229.40" cy="552.40" r="2.27" fill="#f18a2b"/>
<path d="M249.87,556.83 C249.30,557.20 248.26,556.77 247.47,556.87 C246.68,556.96 245.78,557.63 245.13,557.41 C244.49,557.19 244.18,556.11 243.61,555.56 C243.04,555.00 241.96,554.71 241.73,554.07 C241.50,553.43 242.14,552.51 242.22,551.72 C242.31,550.93 241.86,549.90 242.21,549.32 C242.57,548.74 243.69,548.67 244.36,548.25 C245.03,547.82 245.56,546.82 246.23,546.74 C246.91,546.66 247.66,547.49 248.41,547.75 C249.16,548.00 250.27,547.80 250.75,548.27 C251.24,548.75 251.05,549.86 251.32,550.60 C251.59,551.35 252.44,552.09 252.37,552.76 C252.30,553.44 251.32,553.98 250.90,554.66 C250.49,555.34 250.44,556.46 249.87,556.83 Z" fill="url(#gTu)" stroke="none" stroke-width="0.70"/>
<circle cx="247.20" cy="552.40" r="2.10" fill="#f18a2b"/>
<path d="M234.51,566.61 C233.75,566.51 233.17,565.40 232.42,564.91 C231.68,564.42 230.42,564.34 230.03,563.69 C229.64,563.04 230.14,561.89 230.06,561.00 C229.98,560.11 229.26,559.08 229.52,558.37 C229.78,557.65 231.00,557.33 231.64,556.72 C232.28,556.10 232.64,554.89 233.36,554.65 C234.09,554.41 235.09,555.17 235.98,555.28 C236.86,555.39 238.03,554.92 238.67,555.34 C239.30,555.76 239.34,557.01 239.80,557.78 C240.27,558.54 241.36,559.16 241.43,559.91 C241.50,560.67 240.55,561.49 240.24,562.32 C239.93,563.16 240.13,564.40 239.58,564.93 C239.03,565.46 237.80,565.22 236.95,565.50 C236.11,565.78 235.26,566.71 234.51,566.61 Z" fill="url(#gTu)" stroke="none" stroke-width="0.70"/>
<circle cx="235.60" cy="560.70" r="2.35" fill="#f18a2b"/>
<path d="M232.31,554.76 C231.72,554.11 232.03,552.71 231.74,551.74 C231.45,550.76 230.41,549.77 230.55,548.91 C230.68,548.05 231.97,547.42 232.55,546.58 C233.13,545.74 233.26,544.31 234.02,543.88 C234.78,543.45 236.07,544.07 237.09,544.00 C238.10,543.93 239.31,543.14 240.11,543.46 C240.92,543.79 241.25,545.19 241.94,545.94 C242.62,546.69 243.99,547.14 244.24,547.97 C244.49,548.80 243.60,549.93 243.44,550.93 C243.28,551.94 243.79,553.29 243.29,554.00 C242.80,554.72 241.36,554.73 240.47,555.23 C239.59,555.73 238.85,556.96 237.98,557.02 C237.11,557.08 236.21,555.96 235.27,555.59 C234.32,555.21 232.90,555.40 232.31,554.76 Z" fill="url(#gTu)" stroke="none" stroke-width="0.70"/>
<circle cx="237.80" cy="550.20" r="2.69" fill="#f18a2b"/>
<path d="M237.51,560.17 C237.47,559.36 238.54,558.54 238.92,557.67 C239.30,556.79 239.16,555.45 239.77,554.92 C240.39,554.38 241.70,554.71 242.62,554.46 C243.54,554.21 244.50,553.26 245.30,553.41 C246.10,553.56 246.66,554.78 247.43,555.35 C248.20,555.91 249.54,556.07 249.92,556.79 C250.31,557.51 249.70,558.71 249.74,559.67 C249.77,560.62 250.48,561.76 250.16,562.51 C249.84,563.26 248.52,563.53 247.80,564.16 C247.08,564.79 246.62,566.05 245.83,566.27 C245.05,566.48 244.01,565.62 243.07,565.45 C242.14,565.27 240.86,565.71 240.20,565.23 C239.54,564.75 239.57,563.40 239.12,562.56 C238.68,561.71 237.54,560.99 237.51,560.17 Z" fill="url(#gTu)" stroke="none" stroke-width="0.70"/>
<circle cx="244.40" cy="560.10" r="2.52" fill="#f18a2b"/>
<line x1="211.60" y1="569.60" x2="264.60" y2="569.60" stroke="#636466" stroke-width="0.85"/>
<line x1="238.20" y1="569.60" x2="238.20" y2="576.60" stroke="#636466" stroke-width="0.85"/>
<g transform="translate(259.90 595.30)"><path d="M-33,0.4 C-37,0.9 -42.5,0.4 -44.8,-1.6" fill="none" stroke="#5b6168" stroke-width="1.6" stroke-linecap="round"/><path d="M-44.8,-1.6 C-44.4,-3.6 -40.5,-5.8 -37.3,-6.6" fill="none" stroke="#5b6168" stroke-width="1.1" stroke-linecap="round"/><circle cx="-23.9" cy="-12.9" r="2.3" fill="#f7941d"/><path d="M0,0 C-0.8,-1.8 -2.0,-3.6 -3.2,-4.6 C-5,-6.6 -7,-8.6 -9.5,-9.8 C-13,-11.4 -18,-12.0 -23,-11.9 C-27.5,-11.6 -30.8,-9.3 -32.6,-6.4 C-34.2,-3.8 -34.6,-1.2 -34.0,0.6 C-31,2.6 -25,3.0 -18,3.0 C-12,3.0 -8,2.2 -5.6,1.2 C-3.5,0.6 -1.5,0.3 0,0 Z" fill="#5b6168"/><path d="M-29.5,1.5 C-27.5,4.2 -24.5,5.4 -20.5,5.8 L-20.8,4.7 C-23.5,4.3 -25.5,3.2 -26.3,1.8 Z" fill="#5b6168"/><circle cx="-10.4" cy="-10.0" r="3.6" fill="#5b6168"/><ellipse cx="-11.3" cy="-9.4" rx="1.6" ry="2.5" fill="#f0a3b4"/><circle cx="-5.8" cy="-4.1" r="1.0" fill="#111"/><path d="M-4.6,0.5 L-0.4,-0.4 L0.3,0.1 L-0.2,0.6 L-4.6,1.0 Z" fill="#111"/><ellipse cx="-8.6" cy="3.4" rx="2.0" ry="0.85" fill="#f0a3b4" transform="rotate(12 -8.6 3.4)"/></g>
<text x="385.80" y="8.80" font-size="10.50" fill="#000" stroke="#000" stroke-width="0.16" font-weight="bold">b</text>
<text x="524.20" y="10.60" font-size="8.00" text-anchor="middle" stroke="#231f20" stroke-width="0.16">B16F10-OVA/GD2</text>
<line x1="442.50" y1="21.05" x2="442.50" y2="117.95" stroke="#231f20" stroke-width="0.90"/>
<line x1="438.50" y1="21.50" x2="442.50" y2="21.50" stroke="#231f20" stroke-width="0.90"/>
<text x="436.50" y="24.28" font-size="8.00" text-anchor="end" stroke="#231f20" stroke-width="0.16">1500</text>
<line x1="438.50" y1="53.50" x2="442.50" y2="53.50" stroke="#231f20" stroke-width="0.90"/>
<text x="436.50" y="56.18" font-size="8.00" text-anchor="end" stroke="#231f20" stroke-width="0.16">1000</text>
<line x1="438.50" y1="85.50" x2="442.50" y2="85.50" stroke="#231f20" stroke-width="0.90"/>
<text x="436.50" y="88.18" font-size="8.00" text-anchor="end" stroke="#231f20" stroke-width="0.16">500</text>
<line x1="438.50" y1="117.50" x2="442.50" y2="117.50" stroke="#231f20" stroke-width="0.90"/>
<text x="436.50" y="120.18" font-size="8.00" text-anchor="end" stroke="#231f20" stroke-width="0.16">0</text>
<line x1="442.05" y1="117.50" x2="601.50" y2="117.50" stroke="#231f20" stroke-width="0.90"/>
<line x1="442.50" y1="117.50" x2="442.50" y2="121.50" stroke="#231f20" stroke-width="0.90"/>
<text x="442.30" y="130.80" font-size="8.00" text-anchor="middle" stroke="#231f20" stroke-width="0.16">0</text>
<line x1="482.50" y1="117.50" x2="482.50" y2="121.50" stroke="#231f20" stroke-width="0.90"/>
<text x="482.05" y="130.80" font-size="8.00" text-anchor="middle" stroke="#231f20" stroke-width="0.16">5</text>
<line x1="521.50" y1="117.50" x2="521.50" y2="121.50" stroke="#231f20" stroke-width="0.90"/>
<text x="521.80" y="130.80" font-size="8.00" text-anchor="middle" stroke="#231f20" stroke-width="0.16">10</text>
<line x1="561.50" y1="117.50" x2="561.50" y2="121.50" stroke="#231f20" stroke-width="0.90"/>
<text x="561.55" y="130.80" font-size="8.00" text-anchor="middle" stroke="#231f20" stroke-width="0.16">15</text>
<line x1="601.50" y1="117.50" x2="601.50" y2="121.50" stroke="#231f20" stroke-width="0.90"/>
<text x="601.30" y="130.80" font-size="8.00" text-anchor="middle" stroke="#231f20" stroke-width="0.16">20</text>
<text x="523.30" y="140.00" font-size="8.30" text-anchor="middle" stroke="#231f20" stroke-width="0.16">Days post tumour injection</text>
<text x="412.20" y="63.80" font-size="8.10" text-anchor="middle" stroke="#231f20" stroke-width="0.16" transform="rotate(-90.0 412.20 63.80)">Tumourolume (mm<tspan dy="-3.08" font-size="4.86">3</tspan><tspan dy="3.08">)</tspan></text>
<line x1="545.65" y1="105.20" x2="545.65" y2="104.00" stroke="#ee3a3f" stroke-width="0.75"/>
<line x1="543.65" y1="104.00" x2="547.65" y2="104.00" stroke="#ee3a3f" stroke-width="0.75"/>
<line x1="561.55" y1="104.70" x2="561.55" y2="103.40" stroke="#ee3a3f" stroke-width="0.75"/>
<line x1="559.55" y1="103.40" x2="563.55" y2="103.40" stroke="#ee3a3f" stroke-width="0.75"/>
<line x1="577.45" y1="100.50" x2="577.45" y2="98.60" stroke="#ee3a3f" stroke-width="0.75"/>
<line x1="575.45" y1="98.60" x2="579.45" y2="98.60" stroke="#ee3a3f" stroke-width="0.75"/>
<polyline points="442.30,117.30 490.00,115.30 505.90,110.50 521.80,109.90 545.65,105.20 561.55,104.70 577.45,100.50" fill="none" stroke="#ee3a3f" stroke-width="0.90"/>
<circle cx="442.30" cy="117.30" r="1.92" fill="#ee3a3f"/>
<circle cx="490.00" cy="115.30" r="1.92" fill="#ee3a3f"/>
<circle cx="505.90" cy="110.50" r="1.92" fill="#ee3a3f"/>
<circle cx="521.80" cy="109.90" r="1.92" fill="#ee3a3f"/>
<circle cx="545.65" cy="105.20" r="1.92" fill="#ee3a3f"/>
<circle cx="561.55" cy="104.70" r="1.92" fill="#ee3a3f"/>
<circle cx="577.45" cy="100.50" r="1.92" fill="#ee3a3f"/>
<line x1="521.80" y1="105.90" x2="521.80" y2="104.50" stroke="#1f67b1" stroke-width="0.75"/>
<line x1="519.80" y1="104.50" x2="523.80" y2="104.50" stroke="#1f67b1" stroke-width="0.75"/>
<line x1="545.65" y1="96.00" x2="545.65" y2="89.60" stroke="#1f67b1" stroke-width="0.75"/>
<line x1="543.65" y1="89.60" x2="547.65" y2="89.60" stroke="#1f67b1" stroke-width="0.75"/>
<line x1="561.55" y1="89.10" x2="561.55" y2="82.30" stroke="#1f67b1" stroke-width="0.75"/>
<line x1="559.55" y1="82.30" x2="563.55" y2="82.30" stroke="#1f67b1" stroke-width="0.75"/>
<line x1="577.45" y1="81.10" x2="577.45" y2="72.60" stroke="#1f67b1" stroke-width="0.75"/>
<line x1="575.45" y1="72.60" x2="579.45" y2="72.60" stroke="#1f67b1" stroke-width="0.75"/>
<polyline points="442.30,117.30 490.00,114.50 505.90,111.50 521.80,105.90 545.65,96.00 561.55,89.10 577.45,81.10" fill="none" stroke="#1f67b1" stroke-width="0.90"/>
<rect x="440.43" y="115.42" width="3.75" height="3.75" fill="#1f67b1"/>
<rect x="488.12" y="112.62" width="3.75" height="3.75" fill="#1f67b1"/>
<rect x="504.03" y="109.62" width="3.75" height="3.75" fill="#1f67b1"/>
<rect x="519.92" y="104.03" width="3.75" height="3.75" fill="#1f67b1"/>
<rect x="543.77" y="94.12" width="3.75" height="3.75" fill="#1f67b1"/>
<rect x="559.67" y="87.22" width="3.75" height="3.75" fill="#1f67b1"/>
<rect x="575.58" y="79.22" width="3.75" height="3.75" fill="#1f67b1"/>
<line x1="521.80" y1="107.10" x2="521.80" y2="105.50" stroke="#000" stroke-width="0.75"/>
<line x1="519.80" y1="105.50" x2="523.80" y2="105.50" stroke="#000" stroke-width="0.75"/>
<line x1="545.65" y1="93.50" x2="545.65" y2="87.70" stroke="#000" stroke-width="0.75"/>
<line x1="543.65" y1="87.70" x2="547.65" y2="87.70" stroke="#000" stroke-width="0.75"/>
<line x1="561.55" y1="73.40" x2="561.55" y2="63.90" stroke="#000" stroke-width="0.75"/>
<line x1="559.55" y1="63.90" x2="563.55" y2="63.90" stroke="#000" stroke-width="0.75"/>
<line x1="577.45" y1="51.90" x2="577.45" y2="36.60" stroke="#000" stroke-width="0.75"/>
<line x1="575.45" y1="36.60" x2="579.45" y2="36.60" stroke="#000" stroke-width="0.75"/>
<polyline points="442.30,117.30 490.00,115.00 505.90,112.20 521.80,107.10 545.65,93.50 561.55,73.40 577.45,51.90" fill="none" stroke="#000" stroke-width="0.90"/>
<path d="M442.30,114.73 L444.49,118.87 L440.12,118.87 Z" fill="#000" stroke="none" stroke-width="0.70"/>
<path d="M490.00,112.43 L492.19,116.57 L487.81,116.57 Z" fill="#000" stroke="none" stroke-width="0.70"/>
<path d="M505.90,109.63 L508.09,113.77 L503.72,113.77 Z" fill="#000" stroke="none" stroke-width="0.70"/>
<path d="M521.80,104.53 L523.98,108.67 L519.62,108.67 Z" fill="#000" stroke="none" stroke-width="0.70"/>
<path d="M545.65,90.93 L547.83,95.07 L543.47,95.07 Z" fill="#000" stroke="none" stroke-width="0.70"/>
<path d="M561.55,70.83 L563.73,74.97 L559.37,74.97 Z" fill="#000" stroke="none" stroke-width="0.70"/>
<path d="M577.45,49.33 L579.63,53.47 L575.27,53.47 Z" fill="#000" stroke="none" stroke-width="0.70"/>
<line x1="445.20" y1="20.20" x2="455.30" y2="20.20" stroke="#000" stroke-width="0.80"/>
<path d="M450.20,17.63 L452.38,21.77 L448.01,21.77 Z" fill="#000" stroke="none" stroke-width="0.70"/>
<text x="458.80" y="23.00" font-size="7.90" stroke="#231f20" stroke-width="0.16">PBS + αPD-1</text>
<line x1="445.20" y1="32.30" x2="455.30" y2="32.30" stroke="#1f67b1" stroke-width="0.80"/>
<rect x="448.47" y="30.57" width="3.45" height="3.45" fill="#1f67b1"/>
<text x="458.80" y="35.10" font-size="7.90" stroke="#231f20" stroke-width="0.16">DCP-IL-12/CtrlR + αPD-1</text>
<line x1="445.20" y1="43.90" x2="455.30" y2="43.90" stroke="#ee3a3f" stroke-width="0.80"/>
<circle cx="450.20" cy="43.90" r="1.84" fill="#ee3a3f"/>
<text x="458.80" y="46.70" font-size="7.90" stroke="#231f20" stroke-width="0.16">DCP-IL-12/EVIR + αPD-1</text>
<polyline points="582.40,50.50 587.50,50.50 587.50,79.50 582.40,79.50" fill="none" stroke="#231f20" stroke-width="0.85"/>
<text x="596.00" y="63.20" font-size="7.70" text-anchor="middle" stroke="#231f20" stroke-width="0.16" transform="rotate(-90.0 596.00 63.20)">&lt;0.0001</text>
<polyline points="591.60,79.50 596.50,79.50 596.50,98.50 591.60,98.50" fill="none" stroke="#231f20" stroke-width="0.85"/>
<text x="605.20" y="89.70" font-size="7.70" text-anchor="middle" stroke="#231f20" stroke-width="0.16" transform="rotate(-90.0 605.20 89.70)">0.0147</text>
<polyline points="606.80,50.50 612.50,50.50 612.50,98.50 606.80,98.50" fill="none" stroke="#231f20" stroke-width="0.85"/>
<text x="623.00" y="75.90" font-size="7.70" text-anchor="middle" stroke="#231f20" stroke-width="0.16" transform="rotate(-90.0 623.00 75.90)">&lt;0.0001</text>
<text x="0.00" y="149.60" font-size="10.50" fill="#000" stroke="#000" stroke-width="0.16" font-weight="bold">c</text>
<text x="79.90" y="166.60" font-size="8.00" text-anchor="middle" stroke="#231f20" stroke-width="0.16">Tumour: CD8<tspan dy="-3.04" font-size="4.80">+</tspan><tspan dy="3.04"> T cells</tspan></text>
<line x1="37.50" y1="180.05" x2="37.50" y2="264.95" stroke="#231f20" stroke-width="0.90"/>
<line x1="33.70" y1="180.50" x2="37.50" y2="180.50" stroke="#231f20" stroke-width="0.90"/>
<text x="33.30" y="183.35" font-size="8.20" text-anchor="end" stroke="#231f20" stroke-width="0.16">50</text>
<line x1="33.70" y1="197.50" x2="37.50" y2="197.50" stroke="#231f20" stroke-width="0.90"/>
<text x="33.30" y="200.35" font-size="8.20" text-anchor="end" stroke="#231f20" stroke-width="0.16">40</text>
<line x1="33.70" y1="214.50" x2="37.50" y2="214.50" stroke="#231f20" stroke-width="0.90"/>
<text x="33.30" y="217.25" font-size="8.20" text-anchor="end" stroke="#231f20" stroke-width="0.16">30</text>
<line x1="33.70" y1="231.50" x2="37.50" y2="231.50" stroke="#231f20" stroke-width="0.90"/>
<text x="33.30" y="234.15" font-size="8.20" text-anchor="end" stroke="#231f20" stroke-width="0.16">20</text>
<line x1="33.70" y1="247.50" x2="37.50" y2="247.50" stroke="#231f20" stroke-width="0.90"/>
<text x="33.30" y="250.75" font-size="8.20" text-anchor="end" stroke="#231f20" stroke-width="0.16">10</text>
<line x1="33.70" y1="264.50" x2="37.50" y2="264.50" stroke="#231f20" stroke-width="0.90"/>
<text x="33.30" y="267.55" font-size="8.20" text-anchor="end" stroke="#231f20" stroke-width="0.16">0</text>
<line x1="37.05" y1="264.50" x2="121.40" y2="264.50" stroke="#231f20" stroke-width="0.90"/>
<line x1="51.50" y1="264.50" x2="51.50" y2="268.70" stroke="#231f20" stroke-width="0.90"/>
<line x1="79.50" y1="264.50" x2="79.50" y2="268.70" stroke="#231f20" stroke-width="0.90"/>
<line x1="107.50" y1="264.50" x2="107.50" y2="268.70" stroke="#231f20" stroke-width="0.90"/>
<text x="11.40" y="224.10" font-size="8.00" text-anchor="middle" stroke="#231f20" stroke-width="0.16" transform="rotate(-90.0 11.40 224.10)" letter-spacing="0.12">CD8<tspan dy="-3.04" font-size="4.80">+</tspan><tspan dy="3.04"> T cells</tspan></text>
<text x="21.50" y="223.00" font-size="8.00" text-anchor="middle" stroke="#231f20" stroke-width="0.16" transform="rotate(-90.0 21.50 223.00)" letter-spacing="0.17">(% of CD45<tspan dy="-3.04" font-size="4.80">+</tspan><tspan dy="3.04"> cells)</tspan></text>
<polyline points="49.50,228.50 49.50,182.50 95.50,182.50 95.50,188.30" fill="none" stroke="#59595b" stroke-width="0.85"/>
<line x1="83.40" y1="188.30" x2="107.20" y2="188.30" stroke="#231f20" stroke-width="0.75"/>
<text x="75.00" y="180.50" font-size="8.00" text-anchor="middle" stroke="#231f20" stroke-width="0.16">&lt;0.0001</text>
<line x1="51.10" y1="252.50" x2="51.10" y2="256.60" stroke="#231f20" stroke-width="0.75"/>
<line x1="48.60" y1="252.50" x2="53.60" y2="252.50" stroke="#231f20" stroke-width="0.75"/>
<line x1="48.60" y1="256.60" x2="53.60" y2="256.60" stroke="#231f20" stroke-width="0.75"/>
<line x1="44.80" y1="254.50" x2="58.30" y2="254.50" stroke="#231f20" stroke-width="0.90"/>
<path d="M49.50,242.07 L51.40,245.67 L47.60,245.67 Z" fill="#000" stroke="none" stroke-width="0.70"/>
<path d="M53.60,244.37 L55.50,247.97 L51.70,247.97 Z" fill="#000" stroke="none" stroke-width="0.70"/>
<path d="M45.40,256.07 L47.30,259.67 L43.50,259.67 Z" fill="#000" stroke="none" stroke-width="0.70"/>
<path d="M48.80,256.37 L50.70,259.97 L46.90,259.97 Z" fill="#000" stroke="none" stroke-width="0.70"/>
<path d="M52.50,256.07 L54.40,259.67 L50.60,259.67 Z" fill="#000" stroke="none" stroke-width="0.70"/>
<path d="M56.00,256.07 L57.90,259.67 L54.10,259.67 Z" fill="#000" stroke="none" stroke-width="0.70"/>
<path d="M46.00,258.27 L47.90,261.87 L44.10,261.87 Z" fill="#000" stroke="none" stroke-width="0.70"/>
<path d="M50.50,254.27 L52.40,257.87 L48.60,257.87 Z" fill="#000" stroke="none" stroke-width="0.70"/>
<line x1="79.40" y1="212.50" x2="79.40" y2="222.10" stroke="#2b57a7" stroke-width="0.75"/>
<line x1="76.20" y1="212.50" x2="82.60" y2="212.50" stroke="#2b57a7" stroke-width="0.75"/>
<line x1="76.20" y1="222.10" x2="82.60" y2="222.10" stroke="#2b57a7" stroke-width="0.75"/>
<rect x="77.68" y="194.78" width="3.24" height="3.24" fill="#2b57a7"/>
<rect x="75.28" y="206.78" width="3.24" height="3.24" fill="#2b57a7"/>
<rect x="80.58" y="205.58" width="3.24" height="3.24" fill="#2b57a7"/>
<rect x="80.58" y="208.08" width="3.24" height="3.24" fill="#2b57a7"/>
<rect x="80.58" y="210.18" width="3.24" height="3.24" fill="#2b57a7"/>
<rect x="75.28" y="212.18" width="3.24" height="3.24" fill="#2b57a7"/>
<rect x="80.58" y="213.98" width="3.24" height="3.24" fill="#2b57a7"/>
<rect x="75.28" y="227.78" width="3.24" height="3.24" fill="#2b57a7"/>
<rect x="80.58" y="227.78" width="3.24" height="3.24" fill="#2b57a7"/>
<rect x="77.68" y="241.38" width="3.24" height="3.24" fill="#2b57a7"/>
<line x1="72.30" y1="217.30" x2="86.80" y2="217.30" stroke="#231f20" stroke-width="0.90"/>
<line x1="107.30" y1="213.00" x2="107.30" y2="221.40" stroke="#e8192c" stroke-width="0.75"/>
<line x1="104.10" y1="213.00" x2="110.50" y2="213.00" stroke="#e8192c" stroke-width="0.75"/>
<line x1="104.10" y1="221.40" x2="110.50" y2="221.40" stroke="#e8192c" stroke-width="0.75"/>
<line x1="100.20" y1="216.50" x2="114.70" y2="216.50" stroke="#666" stroke-width="0.90"/>
<circle cx="107.30" cy="200.40" r="1.76" fill="#e8192c"/>
<circle cx="105.30" cy="213.30" r="1.76" fill="#e8192c"/>
<circle cx="101.40" cy="215.30" r="1.76" fill="#e8192c"/>
<circle cx="109.60" cy="215.30" r="1.76" fill="#e8192c"/>
<circle cx="105.30" cy="217.30" r="1.76" fill="#e8192c"/>
<circle cx="113.00" cy="217.30" r="1.76" fill="#e8192c"/>
<circle cx="107.30" cy="219.90" r="1.76" fill="#e8192c"/>
<circle cx="107.30" cy="223.80" r="1.76" fill="#e8192c"/>
<circle cx="107.30" cy="237.60" r="1.76" fill="#e8192c"/>
<text x="53.40" y="271.20" font-size="8.20" text-anchor="end" stroke="#231f20" stroke-width="0.16" transform="rotate(-45.0 53.40 271.20)">PBS + αPD-1</text>
<text x="81.60" y="271.20" font-size="8.20" text-anchor="end" stroke="#231f20" stroke-width="0.16" transform="rotate(-45.0 81.60 271.20)">DCP-IL-12/CtrlR + αPD-1</text>
<text x="109.40" y="271.20" font-size="8.20" text-anchor="end" stroke="#231f20" stroke-width="0.16" transform="rotate(-45.0 109.40 271.20)">DCP-IL-12/EVIR + αPD-1</text>
<text x="213.50" y="166.10" font-size="8.00" text-anchor="middle" stroke="#231f20" stroke-width="0.16">Tumour: CD8<tspan dy="-3.04" font-size="4.80">+</tspan><tspan dy="3.04"> T cells</tspan></text>
<line x1="175.50" y1="181.05" x2="175.50" y2="264.95" stroke="#231f20" stroke-width="0.90"/>
<line x1="171.90" y1="181.50" x2="175.50" y2="181.50" stroke="#231f20" stroke-width="0.90"/>
<text x="171.60" y="184.25" font-size="8.20" text-anchor="end" stroke="#231f20" stroke-width="0.16">25</text>
<line x1="171.90" y1="197.50" x2="175.50" y2="197.50" stroke="#231f20" stroke-width="0.90"/>
<text x="171.60" y="200.75" font-size="8.20" text-anchor="end" stroke="#231f20" stroke-width="0.16">20</text>
<line x1="171.90" y1="214.50" x2="175.50" y2="214.50" stroke="#231f20" stroke-width="0.90"/>
<text x="171.60" y="217.45" font-size="8.20" text-anchor="end" stroke="#231f20" stroke-width="0.16">15</text>
<line x1="171.90" y1="231.50" x2="175.50" y2="231.50" stroke="#231f20" stroke-width="0.90"/>
<text x="171.60" y="234.15" font-size="8.20" text-anchor="end" stroke="#231f20" stroke-width="0.16">10</text>
<line x1="171.90" y1="247.50" x2="175.50" y2="247.50" stroke="#231f20" stroke-width="0.90"/>
<text x="171.60" y="250.65" font-size="8.20" text-anchor="end" stroke="#231f20" stroke-width="0.16">5</text>
<line x1="171.90" y1="264.50" x2="175.50" y2="264.50" stroke="#231f20" stroke-width="0.90"/>
<text x="171.60" y="267.35" font-size="8.20" text-anchor="end" stroke="#231f20" stroke-width="0.16">0</text>
<line x1="175.05" y1="264.50" x2="258.00" y2="264.50" stroke="#231f20" stroke-width="0.90"/>
<line x1="189.50" y1="264.50" x2="189.50" y2="268.70" stroke="#231f20" stroke-width="0.90"/>
<line x1="216.50" y1="264.50" x2="216.50" y2="268.70" stroke="#231f20" stroke-width="0.90"/>
<line x1="244.50" y1="264.50" x2="244.50" y2="268.70" stroke="#231f20" stroke-width="0.90"/>
<text x="149.90" y="223.30" font-size="8.00" text-anchor="middle" stroke="#231f20" stroke-width="0.16" transform="rotate(-90.0 149.90 223.30)" letter-spacing="0.12">PD-1+ CD8<tspan dy="-3.04" font-size="4.80">+</tspan><tspan dy="3.04"> T cells</tspan></text>
<text x="159.90" y="222.80" font-size="8.00" text-anchor="middle" stroke="#231f20" stroke-width="0.16" transform="rotate(-90.0 159.90 222.80)" letter-spacing="0.17">(% of CD45<tspan dy="-3.04" font-size="4.80">+</tspan><tspan dy="3.04"> cells)</tspan></text>
<polyline points="188.50,189.90 188.50,178.50 244.50,178.50 244.50,184.20" fill="none" stroke="#59595b" stroke-width="0.85"/>
<text x="215.40" y="176.20" font-size="8.00" text-anchor="middle" stroke="#231f20" stroke-width="0.16">&lt;0.0001</text>
<polyline points="216.50,199.70 216.50,190.50 244.50,190.50 244.50,192.70" fill="none" stroke="#59595b" stroke-width="0.85"/>
<text x="230.60" y="188.00" font-size="8.00" text-anchor="middle" stroke="#231f20" stroke-width="0.16">0.0070</text>
<polyline points="188.50,219.30 188.50,211.50 216.50,211.50 216.50,212.60" fill="none" stroke="#59595b" stroke-width="0.85"/>
<text x="200.60" y="207.90" font-size="8.00" text-anchor="middle" stroke="#231f20" stroke-width="0.16">0.0001</text>
<line x1="182.80" y1="261.00" x2="195.50" y2="261.00" stroke="#555" stroke-width="0.90"/>
<path d="M189.40,253.17 L191.30,256.77 L187.50,256.77 Z" fill="#000" stroke="none" stroke-width="0.70"/>
<path d="M192.00,255.67 L193.90,259.27 L190.10,259.27 Z" fill="#000" stroke="none" stroke-width="0.70"/>
<path d="M185.30,258.27 L187.20,261.87 L183.40,261.87 Z" fill="#000" stroke="none" stroke-width="0.70"/>
<path d="M187.90,258.77 L189.80,262.37 L186.00,262.37 Z" fill="#000" stroke="none" stroke-width="0.70"/>
<path d="M190.40,258.27 L192.30,261.87 L188.50,261.87 Z" fill="#000" stroke="none" stroke-width="0.70"/>
<path d="M195.00,258.77 L196.90,262.37 L193.10,262.37 Z" fill="#000" stroke="none" stroke-width="0.70"/>
<path d="M183.80,261.37 L185.70,264.97 L181.90,264.97 Z" fill="#000" stroke="none" stroke-width="0.70"/>
<path d="M189.40,261.17 L191.30,264.77 L187.50,264.77 Z" fill="#000" stroke="none" stroke-width="0.70"/>
<path d="M194.50,261.37 L196.40,264.97 L192.60,264.97 Z" fill="#000" stroke="none" stroke-width="0.70"/>
<line x1="216.40" y1="231.60" x2="216.40" y2="239.20" stroke="#2b57a7" stroke-width="0.75"/>
<line x1="213.20" y1="231.60" x2="219.60" y2="231.60" stroke="#2b57a7" stroke-width="0.75"/>
<line x1="213.20" y1="239.20" x2="219.60" y2="239.20" stroke="#2b57a7" stroke-width="0.75"/>
<rect x="215.28" y="218.18" width="3.24" height="3.24" fill="#2b57a7"/>
<rect x="211.48" y="223.88" width="3.24" height="3.24" fill="#2b57a7"/>
<rect x="219.08" y="221.08" width="3.24" height="3.24" fill="#2b57a7"/>
<rect x="211.88" y="230.98" width="3.24" height="3.24" fill="#2b57a7"/>
<rect x="218.48" y="229.08" width="3.24" height="3.24" fill="#2b57a7"/>
<rect x="211.88" y="240.38" width="3.24" height="3.24" fill="#2b57a7"/>
<rect x="218.48" y="239.48" width="3.24" height="3.24" fill="#2b57a7"/>
<rect x="211.88" y="251.78" width="3.24" height="3.24" fill="#2b57a7"/>
<rect x="218.48" y="250.88" width="3.24" height="3.24" fill="#2b57a7"/>
<line x1="209.70" y1="235.40" x2="224.00" y2="235.40" stroke="#231f20" stroke-width="0.90"/>
<line x1="244.80" y1="213.60" x2="244.80" y2="223.10" stroke="#e8192c" stroke-width="0.75"/>
<line x1="241.60" y1="213.60" x2="248.00" y2="213.60" stroke="#e8192c" stroke-width="0.75"/>
<line x1="241.60" y1="223.10" x2="248.00" y2="223.10" stroke="#e8192c" stroke-width="0.75"/>
<circle cx="244.40" cy="200.70" r="1.76" fill="#e8192c"/>
<circle cx="239.70" cy="209.80" r="1.76" fill="#e8192c"/>
<circle cx="244.80" cy="208.50" r="1.76" fill="#e8192c"/>
<circle cx="250.00" cy="209.80" r="1.76" fill="#e8192c"/>
<circle cx="244.80" cy="213.60" r="1.76" fill="#e8192c"/>
<circle cx="239.70" cy="222.10" r="1.76" fill="#e8192c"/>
<circle cx="244.80" cy="222.10" r="1.76" fill="#e8192c"/>
<circle cx="244.80" cy="228.80" r="1.76" fill="#e8192c"/>
<circle cx="244.80" cy="240.70" r="1.76" fill="#e8192c"/>
<line x1="238.20" y1="218.30" x2="251.50" y2="218.30" stroke="#231f20" stroke-width="0.90"/>
<text x="191.60" y="271.20" font-size="8.20" text-anchor="end" stroke="#231f20" stroke-width="0.16" transform="rotate(-45.0 191.60 271.20)">PBS + αPD-1</text>
<text x="219.30" y="271.20" font-size="8.20" text-anchor="end" stroke="#231f20" stroke-width="0.16" transform="rotate(-45.0 219.30 271.20)">DCP-IL-12/CtrlR + αPD-1</text>
<text x="246.80" y="271.20" font-size="8.20" text-anchor="end" stroke="#231f20" stroke-width="0.16" transform="rotate(-45.0 246.80 271.20)">DCP-IL-12/EVIR + αPD-1</text>
<text x="322.70" y="358.50" font-size="10.50" fill="#000" stroke="#000" stroke-width="0.16" font-weight="bold">e</text>
<text x="475.60" y="362.50" font-size="8.00" text-anchor="middle" stroke="#231f20" stroke-width="0.16">B16F10-OVA/GD2</text>
<line x1="375.50" y1="374.05" x2="375.50" y2="469.95" stroke="#231f20" stroke-width="0.90"/>
<line x1="371.50" y1="374.50" x2="375.50" y2="374.50" stroke="#231f20" stroke-width="0.90"/>
<text x="369.50" y="377.28" font-size="8.00" text-anchor="end" stroke="#231f20" stroke-width="0.16">1500</text>
<line x1="371.50" y1="406.50" x2="375.50" y2="406.50" stroke="#231f20" stroke-width="0.90"/>
<text x="369.50" y="409.08" font-size="8.00" text-anchor="end" stroke="#231f20" stroke-width="0.16">1000</text>
<line x1="371.50" y1="437.50" x2="375.50" y2="437.50" stroke="#231f20" stroke-width="0.90"/>
<text x="369.50" y="440.68" font-size="8.00" text-anchor="end" stroke="#231f20" stroke-width="0.16">500</text>
<line x1="371.50" y1="469.50" x2="375.50" y2="469.50" stroke="#231f20" stroke-width="0.90"/>
<text x="369.50" y="472.18" font-size="8.00" text-anchor="end" stroke="#231f20" stroke-width="0.16">0</text>
<line x1="375.05" y1="469.50" x2="573.00" y2="469.50" stroke="#231f20" stroke-width="0.90"/>
<line x1="375.50" y1="469.50" x2="375.50" y2="473.50" stroke="#231f20" stroke-width="0.90"/>
<text x="375.30" y="483.10" font-size="8.00" text-anchor="middle" stroke="#231f20" stroke-width="0.16">0</text>
<line x1="422.50" y1="469.50" x2="422.50" y2="473.50" stroke="#231f20" stroke-width="0.90"/>
<text x="422.05" y="483.10" font-size="8.00" text-anchor="middle" stroke="#231f20" stroke-width="0.16">5</text>
<line x1="468.50" y1="469.50" x2="468.50" y2="473.50" stroke="#231f20" stroke-width="0.90"/>
<text x="468.80" y="483.10" font-size="8.00" text-anchor="middle" stroke="#231f20" stroke-width="0.16">10</text>
<line x1="515.50" y1="469.50" x2="515.50" y2="473.50" stroke="#231f20" stroke-width="0.90"/>
<text x="515.55" y="483.10" font-size="8.00" text-anchor="middle" stroke="#231f20" stroke-width="0.16">15</text>
<line x1="562.50" y1="469.50" x2="562.50" y2="473.50" stroke="#231f20" stroke-width="0.90"/>
<text x="562.30" y="483.10" font-size="8.00" text-anchor="middle" stroke="#231f20" stroke-width="0.16">20</text>
<text x="473.40" y="496.50" font-size="8.30" text-anchor="middle" stroke="#231f20" stroke-width="0.16">Days post tumour injection</text>
<text x="344.60" y="419.00" font-size="8.00" text-anchor="middle" stroke="#231f20" stroke-width="0.16" transform="rotate(-90.0 344.60 419.00)">Tumour volume (mm<tspan dy="-3.04" font-size="4.80">3</tspan><tspan dy="3.04">)</tspan></text>
<line x1="515.55" y1="463.80" x2="515.55" y2="462.20" stroke="#ec2027" stroke-width="0.75"/>
<line x1="513.55" y1="462.20" x2="517.55" y2="462.20" stroke="#ec2027" stroke-width="0.75"/>
<line x1="534.25" y1="460.90" x2="534.25" y2="459.00" stroke="#ec2027" stroke-width="0.75"/>
<line x1="532.25" y1="459.00" x2="536.25" y2="459.00" stroke="#ec2027" stroke-width="0.75"/>
<line x1="562.30" y1="451.50" x2="562.30" y2="448.80" stroke="#ec2027" stroke-width="0.75"/>
<line x1="560.30" y1="448.80" x2="564.30" y2="448.80" stroke="#ec2027" stroke-width="0.75"/>
<polyline points="375.30,469.30 459.45,468.20 496.85,467.00 515.55,463.80 534.25,460.90 562.30,451.50" fill="none" stroke="#ec2027" stroke-width="0.90"/>
<rect x="373.35" y="467.35" width="3.90" height="3.90" fill="#ec2027"/>
<rect x="457.50" y="466.25" width="3.90" height="3.90" fill="#ec2027"/>
<rect x="494.90" y="465.05" width="3.90" height="3.90" fill="#ec2027"/>
<rect x="513.60" y="461.85" width="3.90" height="3.90" fill="#ec2027"/>
<rect x="532.30" y="458.95" width="3.90" height="3.90" fill="#ec2027"/>
<rect x="560.35" y="449.55" width="3.90" height="3.90" fill="#ec2027"/>
<line x1="496.85" y1="464.50" x2="496.85" y2="462.50" stroke="#129149" stroke-width="0.75"/>
<line x1="494.85" y1="462.50" x2="498.85" y2="462.50" stroke="#129149" stroke-width="0.75"/>
<line x1="515.55" y1="458.00" x2="515.55" y2="454.50" stroke="#129149" stroke-width="0.75"/>
<line x1="513.55" y1="454.50" x2="517.55" y2="454.50" stroke="#129149" stroke-width="0.75"/>
<line x1="534.25" y1="449.20" x2="534.25" y2="445.00" stroke="#129149" stroke-width="0.75"/>
<line x1="532.25" y1="445.00" x2="536.25" y2="445.00" stroke="#129149" stroke-width="0.75"/>
<line x1="562.30" y1="422.60" x2="562.30" y2="410.50" stroke="#129149" stroke-width="0.75"/>
<line x1="560.30" y1="410.50" x2="564.30" y2="410.50" stroke="#129149" stroke-width="0.75"/>
<polyline points="375.30,469.30 459.45,467.60 496.85,464.50 515.55,458.00 534.25,449.20 562.30,422.60" fill="none" stroke="#129149" stroke-width="0.90"/>
<circle cx="375.30" cy="469.30" r="2.08" fill="#129149"/>
<circle cx="459.45" cy="467.60" r="2.08" fill="#129149"/>
<circle cx="496.85" cy="464.50" r="2.08" fill="#129149"/>
<circle cx="515.55" cy="458.00" r="2.08" fill="#129149"/>
<circle cx="534.25" cy="449.20" r="2.08" fill="#129149"/>
<circle cx="562.30" cy="422.60" r="2.08" fill="#129149"/>
<line x1="496.85" y1="460.60" x2="496.85" y2="457.50" stroke="#000" stroke-width="0.75"/>
<line x1="494.85" y1="457.50" x2="498.85" y2="457.50" stroke="#000" stroke-width="0.75"/>
<line x1="515.55" y1="454.30" x2="515.55" y2="450.00" stroke="#000" stroke-width="0.75"/>
<line x1="513.55" y1="450.00" x2="517.55" y2="450.00" stroke="#000" stroke-width="0.75"/>
<line x1="534.25" y1="445.50" x2="534.25" y2="441.00" stroke="#000" stroke-width="0.75"/>
<line x1="532.25" y1="441.00" x2="536.25" y2="441.00" stroke="#000" stroke-width="0.75"/>
<line x1="562.30" y1="423.60" x2="562.30" y2="415.70" stroke="#000" stroke-width="0.75"/>
<line x1="560.30" y1="415.70" x2="564.30" y2="415.70" stroke="#000" stroke-width="0.75"/>
<polyline points="375.30,469.30 459.45,467.00 496.85,460.60 515.55,454.30 534.25,445.50 562.30,423.60" fill="none" stroke="#000" stroke-width="0.90"/>
<path d="M375.30,466.62 L377.58,470.94 L373.02,470.94 Z" fill="#000" stroke="none" stroke-width="0.70"/>
<path d="M459.45,464.32 L461.73,468.64 L457.17,468.64 Z" fill="#000" stroke="none" stroke-width="0.70"/>
<path d="M496.85,457.92 L499.13,462.24 L494.57,462.24 Z" fill="#000" stroke="none" stroke-width="0.70"/>
<path d="M515.55,451.62 L517.83,455.94 L513.27,455.94 Z" fill="#000" stroke="none" stroke-width="0.70"/>
<path d="M534.25,442.82 L536.53,447.14 L531.97,447.14 Z" fill="#000" stroke="none" stroke-width="0.70"/>
<path d="M562.30,420.92 L564.58,425.24 L560.02,425.24 Z" fill="#000" stroke="none" stroke-width="0.70"/>
<line x1="496.85" y1="458.70" x2="496.85" y2="455.50" stroke="#2c3590" stroke-width="0.75"/>
<line x1="494.85" y1="455.50" x2="498.85" y2="455.50" stroke="#2c3590" stroke-width="0.75"/>
<line x1="515.55" y1="449.20" x2="515.55" y2="446.00" stroke="#2c3590" stroke-width="0.75"/>
<line x1="513.55" y1="446.00" x2="517.55" y2="446.00" stroke="#2c3590" stroke-width="0.75"/>
<line x1="534.25" y1="439.00" x2="534.25" y2="433.40" stroke="#2c3590" stroke-width="0.75"/>
<line x1="532.25" y1="433.40" x2="536.25" y2="433.40" stroke="#2c3590" stroke-width="0.75"/>
<line x1="562.30" y1="402.00" x2="562.30" y2="386.80" stroke="#2c3590" stroke-width="0.75"/>
<line x1="560.30" y1="386.80" x2="564.30" y2="386.80" stroke="#2c3590" stroke-width="0.75"/>
<polyline points="375.30,469.30 459.45,465.50 496.85,458.70 515.55,449.20 534.25,439.00 562.30,402.00" fill="none" stroke="#2c3590" stroke-width="0.90"/>
<path d="M375.30,471.98 L377.58,467.66 L373.02,467.66 Z" fill="#2c3590" stroke="none" stroke-width="0.70"/>
<path d="M459.45,468.18 L461.73,463.86 L457.17,463.86 Z" fill="#2c3590" stroke="none" stroke-width="0.70"/>
<path d="M496.85,461.38 L499.13,457.06 L494.57,457.06 Z" fill="#2c3590" stroke="none" stroke-width="0.70"/>
<path d="M515.55,451.88 L517.83,447.56 L513.27,447.56 Z" fill="#2c3590" stroke="none" stroke-width="0.70"/>
<path d="M534.25,441.68 L536.53,437.36 L531.97,437.36 Z" fill="#2c3590" stroke="none" stroke-width="0.70"/>
<path d="M562.30,404.68 L564.58,400.36 L560.02,400.36 Z" fill="#2c3590" stroke="none" stroke-width="0.70"/>
<line x1="378.90" y1="380.20" x2="390.70" y2="380.20" stroke="#2c3590" stroke-width="0.80"/>
<path d="M384.80,382.77 L386.99,378.63 L382.62,378.63 Z" fill="#2c3590" stroke="none" stroke-width="0.70"/>
<text x="394.30" y="383.00" font-size="7.90" stroke="#231f20" stroke-width="0.16">DCP-IL-12/CtrlR + αPD-1</text>
<line x1="378.90" y1="392.90" x2="390.70" y2="392.90" stroke="#000" stroke-width="0.80"/>
<path d="M384.80,390.33 L386.99,394.47 L382.62,394.47 Z" fill="#000" stroke="none" stroke-width="0.70"/>
<text x="394.30" y="395.70" font-size="7.90" stroke="#231f20" stroke-width="0.16">DCP-IL-12/CtrlR + IgG</text>
<line x1="378.90" y1="405.60" x2="390.70" y2="405.60" stroke="#129149" stroke-width="0.80"/>
<circle cx="384.80" cy="405.60" r="1.84" fill="#129149"/>
<text x="394.30" y="408.40" font-size="7.90" stroke="#231f20" stroke-width="0.16">DCP-IL-12/EVIR + IgG</text>
<line x1="378.90" y1="418.30" x2="390.70" y2="418.30" stroke="#ec2027" stroke-width="0.80"/>
<rect x="383.07" y="416.57" width="3.45" height="3.45" fill="#ec2027"/>
<text x="394.30" y="421.10" font-size="7.90" stroke="#231f20" stroke-width="0.16">DCP-IL-12/EVIR + αPD-1</text>
<polyline points="566.60,425.50 572.50,425.50 572.50,451.50 566.60,451.50" fill="none" stroke="#231f20" stroke-width="0.85"/>
<text x="581.40" y="437.20" font-size="7.70" text-anchor="middle" stroke="#231f20" stroke-width="0.16" transform="rotate(-90.0 581.40 437.20)">0.0010</text>
<polyline points="580.30,422.50 585.50,422.50 585.50,451.50 580.30,451.50" fill="none" stroke="#231f20" stroke-width="0.85"/>
<text x="594.30" y="439.10" font-size="7.70" text-anchor="middle" stroke="#231f20" stroke-width="0.16" transform="rotate(-90.0 594.30 439.10)">0.0003</text>
<polyline points="591.30,402.50 597.50,402.50 597.50,421.50 591.30,421.50" fill="none" stroke="#231f20" stroke-width="0.85"/>
<text x="605.70" y="411.50" font-size="7.70" text-anchor="middle" stroke="#231f20" stroke-width="0.16" transform="rotate(-90.0 605.70 411.50)">0.0295</text>
<polyline points="607.90,402.50 610.50,402.50 610.50,425.50 607.90,425.50" fill="none" stroke="#231f20" stroke-width="0.85"/>
<text x="618.70" y="412.30" font-size="7.70" text-anchor="middle" stroke="#231f20" stroke-width="0.16" transform="rotate(-90.0 618.70 412.30)">0.0210</text>
<polyline points="620.30,402.50 624.50,402.50 624.50,451.50 620.30,451.50" fill="none" stroke="#231f20" stroke-width="0.85"/>
<text x="631.60" y="423.10" font-size="7.70" text-anchor="middle" stroke="#231f20" stroke-width="0.16" transform="rotate(-90.0 631.60 423.10)">&lt;0.0001</text>
<text x="312.50" y="526.20" font-size="10.50" fill="#000" stroke="#000" stroke-width="0.16" font-weight="bold">g</text>
<text x="399.20" y="531.00" font-size="8.00" text-anchor="middle" stroke="#231f20" stroke-width="0.16">Tumour: CD8<tspan dy="-3.04" font-size="4.80">+</tspan><tspan dy="3.04"> T cells</tspan></text>
<line x1="358.50" y1="541.05" x2="358.50" y2="624.95" stroke="#231f20" stroke-width="0.90"/>
<line x1="354.90" y1="541.50" x2="358.50" y2="541.50" stroke="#231f20" stroke-width="0.90"/>
<text x="353.90" y="544.25" font-size="8.20" text-anchor="end" stroke="#231f20" stroke-width="0.16">20</text>
<line x1="354.90" y1="562.50" x2="358.50" y2="562.50" stroke="#231f20" stroke-width="0.90"/>
<text x="353.90" y="565.05" font-size="8.20" text-anchor="end" stroke="#231f20" stroke-width="0.16">15</text>
<line x1="354.90" y1="583.50" x2="358.50" y2="583.50" stroke="#231f20" stroke-width="0.90"/>
<text x="353.90" y="585.95" font-size="8.20" text-anchor="end" stroke="#231f20" stroke-width="0.16">10</text>
<line x1="354.90" y1="603.50" x2="358.50" y2="603.50" stroke="#231f20" stroke-width="0.90"/>
<text x="353.90" y="606.45" font-size="8.20" text-anchor="end" stroke="#231f20" stroke-width="0.16">5</text>
<line x1="354.90" y1="624.50" x2="358.50" y2="624.50" stroke="#231f20" stroke-width="0.90"/>
<text x="353.90" y="627.35" font-size="8.20" text-anchor="end" stroke="#231f20" stroke-width="0.16">0</text>
<line x1="358.05" y1="624.50" x2="442.40" y2="624.50" stroke="#231f20" stroke-width="0.90"/>
<line x1="370.50" y1="624.50" x2="370.50" y2="628.70" stroke="#231f20" stroke-width="0.90"/>
<line x1="406.50" y1="624.50" x2="406.50" y2="628.70" stroke="#231f20" stroke-width="0.90"/>
<line x1="429.50" y1="624.50" x2="429.50" y2="628.70" stroke="#231f20" stroke-width="0.90"/>
<line x1="388.70" y1="546.50" x2="388.70" y2="622.50" stroke="#231f20" stroke-width="1.35" stroke-dasharray="0.01 4.97" stroke-linecap="round"/>
<text x="333.20" y="582.80" font-size="8.00" text-anchor="middle" stroke="#231f20" stroke-width="0.16" transform="rotate(-90.0 333.20 582.80)">CD8β<tspan dy="-3.04" font-size="4.80">+</tspan><tspan dy="3.04"> T cells</tspan></text>
<text x="343.20" y="582.40" font-size="8.00" text-anchor="middle" stroke="#231f20" stroke-width="0.16" transform="rotate(-90.0 343.20 582.40)" letter-spacing="0.17">(% of CD45<tspan dy="-3.04" font-size="4.80">+</tspan><tspan dy="3.04"> cells)</tspan></text>
<polyline points="370.50,549.40 370.50,543.50 406.50,543.50 406.50,549.40" fill="none" stroke="#3a3a3c" stroke-width="0.85"/>
<text x="385.30" y="540.90" font-size="8.00" text-anchor="middle" stroke="#231f20" stroke-width="0.16">0.0318</text>
<polyline points="406.50,557.60 406.50,553.50 429.50,553.50 429.50,557.60" fill="none" stroke="#3a3a3c" stroke-width="0.85"/>
<text x="420.00" y="549.40" font-size="8.00" text-anchor="middle" stroke="#231f20" stroke-width="0.16">0.0089</text>
<line x1="363.30" y1="614.30" x2="376.60" y2="614.30" stroke="#231f20" stroke-width="0.90"/>
<circle cx="370.90" cy="607.70" r="1.89" fill="#000"/>
<circle cx="374.90" cy="607.50" r="1.89" fill="#000"/>
<circle cx="367.10" cy="610.10" r="1.89" fill="#000"/>
<circle cx="371.20" cy="612.30" r="1.89" fill="#000"/>
<circle cx="367.00" cy="615.80" r="1.89" fill="#000"/>
<circle cx="375.00" cy="618.70" r="1.89" fill="#000"/>
<circle cx="367.10" cy="620.60" r="1.89" fill="#000"/>
<circle cx="371.50" cy="617.00" r="1.89" fill="#000"/>
<line x1="406.00" y1="589.40" x2="406.00" y2="604.50" stroke="#2c3590" stroke-width="0.75"/>
<line x1="403.00" y1="589.40" x2="409.00" y2="589.40" stroke="#2c3590" stroke-width="0.75"/>
<line x1="403.00" y1="604.50" x2="409.00" y2="604.50" stroke="#2c3590" stroke-width="0.75"/>
<line x1="399.70" y1="597.10" x2="412.40" y2="597.10" stroke="#666" stroke-width="0.90"/>
<circle cx="406.00" cy="562.70" r="1.89" fill="#2c3590"/>
<circle cx="406.00" cy="595.30" r="1.89" fill="#2c3590"/>
<circle cx="401.70" cy="603.00" r="1.89" fill="#2c3590"/>
<circle cx="410.30" cy="603.00" r="1.89" fill="#2c3590"/>
<circle cx="406.00" cy="605.30" r="1.89" fill="#2c3590"/>
<circle cx="406.00" cy="612.80" r="1.89" fill="#2c3590"/>
<line x1="429.80" y1="614.50" x2="429.80" y2="622.00" stroke="#ec2027" stroke-width="0.75"/>
<line x1="426.80" y1="614.50" x2="432.90" y2="614.50" stroke="#ec2027" stroke-width="0.75"/>
<line x1="423.70" y1="618.20" x2="436.00" y2="618.20" stroke="#231f20" stroke-width="0.90"/>
<path d="M423.7,624.4 L425.5,621.0 L434.5,621.0 L436.3,624.4 Z" fill="#ec2027" stroke="none" stroke-width="0.70"/>
<rect x="425.00" y="621.00" width="10.50" height="2.40" fill="#ec2027"/>
<rect x="425.00" y="621.80" width="10.50" height="2.40" fill="#ec2027"/>
<rect x="427.80" y="590.30" width="4.00" height="4.00" fill="#8c5a28"/>
<line x1="438.50" y1="592.30" x2="455.20" y2="592.30" stroke="#8c5a28" stroke-width="0.80"/>
<path d="M436.6,592.30 L440.8,589.70 L440.8,594.90 Z" fill="#8c5a28" stroke="none" stroke-width="0.70"/>
<rect x="427.80" y="609.70" width="4.00" height="4.00" fill="#8c5a28"/>
<line x1="438.50" y1="611.70" x2="455.20" y2="611.70" stroke="#8c5a28" stroke-width="0.80"/>
<path d="M436.6,611.70 L440.8,609.10 L440.8,614.30 Z" fill="#8c5a28" stroke="none" stroke-width="0.70"/>
<text x="372.60" y="633.00" font-size="8.00" text-anchor="end" stroke="#231f20" stroke-width="0.16" transform="rotate(-45.0 372.60 633.00)">PBS</text>
<text x="407.50" y="633.00" font-size="8.00" text-anchor="end" stroke="#231f20" stroke-width="0.16" transform="rotate(-45.0 407.50 633.00)">DCP-IL-12/EVIR + αPD-1</text>
<text x="431.00" y="633.00" font-size="8.00" text-anchor="end" stroke="#231f20" stroke-width="0.16" transform="rotate(-45.0 431.00 633.00)">DCP-IL-12/EVIR</text>
<text x="436.21" y="642.64" font-size="8.00" text-anchor="end" stroke="#231f20" stroke-width="0.16" transform="rotate(-45.0 436.21 642.64)">+ αPD-1/CD8a</text>
<text x="464.90" y="525.50" font-size="10.50" fill="#000" stroke="#000" stroke-width="0.16" font-weight="bold">h</text>
<text x="552.90" y="528.80" font-size="8.00" stroke="#231f20" stroke-width="0.16">B16F10-OVA/GD2</text>
<line x1="511.50" y1="550.05" x2="511.50" y2="644.95" stroke="#231f20" stroke-width="0.90"/>
<line x1="507.50" y1="550.50" x2="511.50" y2="550.50" stroke="#231f20" stroke-width="0.90"/>
<text x="505.20" y="553.38" font-size="8.00" text-anchor="end" stroke="#231f20" stroke-width="0.16">1000</text>
<line x1="507.50" y1="569.50" x2="511.50" y2="569.50" stroke="#231f20" stroke-width="0.90"/>
<text x="505.20" y="572.38" font-size="8.00" text-anchor="end" stroke="#231f20" stroke-width="0.16">800</text>
<line x1="507.50" y1="588.50" x2="511.50" y2="588.50" stroke="#231f20" stroke-width="0.90"/>
<text x="505.20" y="591.18" font-size="8.00" text-anchor="end" stroke="#231f20" stroke-width="0.16">600</text>
<line x1="507.50" y1="607.50" x2="511.50" y2="607.50" stroke="#231f20" stroke-width="0.90"/>
<text x="505.20" y="609.98" font-size="8.00" text-anchor="end" stroke="#231f20" stroke-width="0.16">400</text>
<line x1="507.50" y1="625.50" x2="511.50" y2="625.50" stroke="#231f20" stroke-width="0.90"/>
<text x="505.20" y="628.48" font-size="8.00" text-anchor="end" stroke="#231f20" stroke-width="0.16">200</text>
<line x1="507.50" y1="644.50" x2="511.50" y2="644.50" stroke="#231f20" stroke-width="0.90"/>
<text x="505.20" y="647.18" font-size="8.00" text-anchor="end" stroke="#231f20" stroke-width="0.16">0</text>
<line x1="511.05" y1="644.50" x2="660.90" y2="644.50" stroke="#231f20" stroke-width="0.90"/>
<line x1="510.50" y1="644.50" x2="510.50" y2="648.00" stroke="#231f20" stroke-width="0.90"/>
<text x="510.90" y="655.40" font-size="8.00" text-anchor="middle" stroke="#231f20" stroke-width="0.16">0</text>
<line x1="548.50" y1="644.50" x2="548.50" y2="648.00" stroke="#231f20" stroke-width="0.90"/>
<text x="548.25" y="655.40" font-size="8.00" text-anchor="middle" stroke="#231f20" stroke-width="0.16">5</text>
<line x1="585.50" y1="644.50" x2="585.50" y2="648.00" stroke="#231f20" stroke-width="0.90"/>
<text x="585.60" y="655.40" font-size="8.00" text-anchor="middle" stroke="#231f20" stroke-width="0.16">10</text>
<line x1="622.50" y1="644.50" x2="622.50" y2="648.00" stroke="#231f20" stroke-width="0.90"/>
<text x="622.95" y="655.40" font-size="8.00" text-anchor="middle" stroke="#231f20" stroke-width="0.16">15</text>
<line x1="660.50" y1="644.50" x2="660.50" y2="648.00" stroke="#231f20" stroke-width="0.90"/>
<text x="660.30" y="655.40" font-size="8.00" text-anchor="middle" stroke="#231f20" stroke-width="0.16">20</text>
<text x="534.30" y="666.30" font-size="8.30" stroke="#231f20" stroke-width="0.16">Days post tumour injection</text>
<text x="481.60" y="599.00" font-size="8.00" text-anchor="middle" stroke="#231f20" stroke-width="0.16" transform="rotate(-90.0 481.60 599.00)">Tumour volume (mm<tspan dy="-3.04" font-size="4.80">3</tspan><tspan dy="3.04">)</tspan></text>
<line x1="637.89" y1="626.40" x2="637.89" y2="623.50" stroke="#2c3590" stroke-width="0.75"/>
<line x1="635.89" y1="623.50" x2="639.89" y2="623.50" stroke="#2c3590" stroke-width="0.75"/>
<line x1="652.83" y1="610.80" x2="652.83" y2="604.00" stroke="#2c3590" stroke-width="0.75"/>
<line x1="650.83" y1="604.00" x2="654.83" y2="604.00" stroke="#2c3590" stroke-width="0.75"/>
<polyline points="510.90,644.30 563.19,642.00 585.60,639.60 600.54,639.30 615.48,636.80 637.89,626.40 652.83,610.80" fill="none" stroke="#2c3590" stroke-width="0.90"/>
<circle cx="510.90" cy="644.30" r="2.08" fill="#2c3590"/>
<circle cx="563.19" cy="642.00" r="2.08" fill="#2c3590"/>
<circle cx="585.60" cy="639.60" r="2.08" fill="#2c3590"/>
<circle cx="600.54" cy="639.30" r="2.08" fill="#2c3590"/>
<circle cx="615.48" cy="636.80" r="2.08" fill="#2c3590"/>
<circle cx="637.89" cy="626.40" r="2.08" fill="#2c3590"/>
<circle cx="652.83" cy="610.80" r="2.08" fill="#2c3590"/>
<line x1="615.48" y1="630.50" x2="615.48" y2="628.00" stroke="#ec2027" stroke-width="0.75"/>
<line x1="613.48" y1="628.00" x2="617.48" y2="628.00" stroke="#ec2027" stroke-width="0.75"/>
<line x1="637.89" y1="604.10" x2="637.89" y2="593.50" stroke="#ec2027" stroke-width="0.75"/>
<line x1="635.89" y1="593.50" x2="639.89" y2="593.50" stroke="#ec2027" stroke-width="0.75"/>
<line x1="652.83" y1="581.40" x2="652.83" y2="564.30" stroke="#ec2027" stroke-width="0.75"/>
<line x1="650.83" y1="564.30" x2="654.83" y2="564.30" stroke="#ec2027" stroke-width="0.75"/>
<polyline points="510.90,644.30 563.19,640.60 585.60,638.70 600.54,637.20 615.48,630.50 637.89,604.10 652.83,581.40" fill="none" stroke="#ec2027" stroke-width="0.90"/>
<rect x="508.95" y="642.35" width="3.90" height="3.90" fill="#ec2027"/>
<rect x="561.24" y="638.65" width="3.90" height="3.90" fill="#ec2027"/>
<rect x="583.65" y="636.75" width="3.90" height="3.90" fill="#ec2027"/>
<rect x="598.59" y="635.25" width="3.90" height="3.90" fill="#ec2027"/>
<rect x="613.53" y="628.55" width="3.90" height="3.90" fill="#ec2027"/>
<rect x="635.94" y="602.15" width="3.90" height="3.90" fill="#ec2027"/>
<rect x="650.88" y="579.45" width="3.90" height="3.90" fill="#ec2027"/>
<line x1="585.60" y1="628.30" x2="585.60" y2="625.80" stroke="#000" stroke-width="0.75"/>
<line x1="583.60" y1="625.80" x2="587.60" y2="625.80" stroke="#000" stroke-width="0.75"/>
<line x1="600.54" y1="615.00" x2="600.54" y2="608.00" stroke="#000" stroke-width="0.75"/>
<line x1="598.54" y1="608.00" x2="602.54" y2="608.00" stroke="#000" stroke-width="0.75"/>
<line x1="615.48" y1="578.90" x2="615.48" y2="566.20" stroke="#000" stroke-width="0.75"/>
<line x1="613.48" y1="566.20" x2="617.48" y2="566.20" stroke="#000" stroke-width="0.75"/>
<polyline points="510.90,644.30 563.19,639.30 585.60,628.30 600.54,615.00 615.48,578.90" fill="none" stroke="#000" stroke-width="0.90"/>
<circle cx="510.90" cy="644.30" r="2.08" fill="#000"/>
<circle cx="563.19" cy="639.30" r="2.08" fill="#000"/>
<circle cx="585.60" cy="628.30" r="2.08" fill="#000"/>
<circle cx="600.54" cy="615.00" r="2.08" fill="#000"/>
<circle cx="615.48" cy="578.90" r="2.08" fill="#000"/>
<text x="611.00" y="576.60" font-size="8.00" text-anchor="end" stroke="#231f20" stroke-width="0.16">&lt;0.0001</text>
<line x1="516.60" y1="533.60" x2="525.80" y2="533.60" stroke="#000" stroke-width="0.80"/>
<circle cx="521.20" cy="533.60" r="1.01" fill="#fff" stroke="#000" stroke-width="0.8"/>
<text x="530.60" y="536.50" font-size="7.90" stroke="#231f20" stroke-width="0.16">PBS</text>
<line x1="516.60" y1="544.30" x2="525.80" y2="544.30" stroke="#ec2027" stroke-width="0.80"/>
<path d="M521.20,542.63 L522.62,545.33 L519.78,545.33 Z" fill="#ec2027" stroke="none" stroke-width="0.70"/>
<text x="530.60" y="547.20" font-size="7.90" stroke="#231f20" stroke-width="0.16">DCP-IL-12/EVIR + αPD1/αCD8a</text>
<line x1="516.60" y1="554.60" x2="525.80" y2="554.60" stroke="#2c3590" stroke-width="0.80"/>
<rect x="520.08" y="553.48" width="2.25" height="2.25" fill="#2c3590"/>
<text x="530.60" y="557.50" font-size="7.90" stroke="#231f20" stroke-width="0.16">DCP-IL-12/EVIR + αPD1</text>
<polyline points="660.90,581.50 663.50,581.50 663.50,609.50 660.90,609.50" fill="none" stroke="#231f20" stroke-width="0.85"/>
<text x="670.40" y="595.60" font-size="7.70" text-anchor="middle" fill="#ec2027" stroke="#ec2027" stroke-width="0.16" transform="rotate(-90.0 670.40 595.60)">0.0026</text>
<text x="0.00" y="707.50" font-size="10.50" fill="#000" stroke="#000" stroke-width="0.16" font-weight="bold">i</text>
<text x="23.70" y="718.50" font-size="8.00" stroke="#231f20" stroke-width="0.16">Tumour: M1-like macrophages</text>
<line x1="36.50" y1="728.05" x2="36.50" y2="811.95" stroke="#231f20" stroke-width="0.90"/>
<line x1="32.90" y1="728.50" x2="36.50" y2="728.50" stroke="#231f20" stroke-width="0.90"/>
<text x="32.00" y="730.95" font-size="8.20" text-anchor="end" stroke="#231f20" stroke-width="0.16">60</text>
<line x1="32.90" y1="755.50" x2="36.50" y2="755.50" stroke="#231f20" stroke-width="0.90"/>
<text x="32.00" y="758.85" font-size="8.20" text-anchor="end" stroke="#231f20" stroke-width="0.16">40</text>
<line x1="32.90" y1="783.50" x2="36.50" y2="783.50" stroke="#231f20" stroke-width="0.90"/>
<text x="32.00" y="786.55" font-size="8.20" text-anchor="end" stroke="#231f20" stroke-width="0.16">20</text>
<line x1="32.90" y1="811.50" x2="36.50" y2="811.50" stroke="#231f20" stroke-width="0.90"/>
<text x="32.00" y="814.25" font-size="8.20" text-anchor="end" stroke="#231f20" stroke-width="0.16">0</text>
<line x1="36.05" y1="811.50" x2="120.50" y2="811.50" stroke="#231f20" stroke-width="0.90"/>
<line x1="48.50" y1="811.50" x2="48.50" y2="815.70" stroke="#231f20" stroke-width="0.90"/>
<line x1="83.50" y1="811.50" x2="83.50" y2="815.70" stroke="#231f20" stroke-width="0.90"/>
<line x1="107.50" y1="811.50" x2="107.50" y2="815.70" stroke="#231f20" stroke-width="0.90"/>
<line x1="66.40" y1="728.20" x2="66.40" y2="809.50" stroke="#231f20" stroke-width="1.35" stroke-dasharray="0.01 4.97" stroke-linecap="round"/>
<text x="10.40" y="769.50" font-size="8.00" text-anchor="middle" stroke="#231f20" stroke-width="0.16" transform="rotate(-90.0 10.40 769.50)">CD11c<tspan dy="-3.04" font-size="4.80">+</tspan><tspan dy="3.04"> MRC1</tspan><tspan dy="-3.04" font-size="4.80">−</tspan><tspan dy="3.04"> macrophages</tspan></text>
<text x="20.40" y="771.50" font-size="8.00" text-anchor="middle" stroke="#231f20" stroke-width="0.16" transform="rotate(-90.0 20.40 771.50)" letter-spacing="0.30">(% of CD45<tspan dy="-3.04" font-size="4.80">+</tspan><tspan dy="3.04"> cells)</tspan></text>
<polyline points="48.50,738.40 48.50,734.50 107.50,734.50 107.50,738.40" fill="none" stroke="#2b2b2d" stroke-width="0.85"/>
<text x="71.20" y="731.80" font-size="8.00" stroke="#231f20" stroke-width="0.16">0.0042</text>
<polyline points="48.50,761.70 48.50,757.50 83.50,757.50 83.50,761.70" fill="none" stroke="#2b2b2d" stroke-width="0.85"/>
<text x="71.20" y="754.50" font-size="8.00" stroke="#231f20" stroke-width="0.16">0.0221</text>
<line x1="42.30" y1="801.60" x2="54.60" y2="801.60" stroke="#231f20" stroke-width="0.90"/>
<circle cx="46.10" cy="794.30" r="1.89" fill="#000"/>
<circle cx="48.50" cy="797.40" r="1.89" fill="#000"/>
<circle cx="46.10" cy="801.00" r="1.89" fill="#000"/>
<circle cx="52.80" cy="800.70" r="1.89" fill="#000"/>
<circle cx="43.80" cy="803.90" r="1.89" fill="#000"/>
<circle cx="48.40" cy="803.90" r="1.89" fill="#000"/>
<circle cx="52.50" cy="805.10" r="1.89" fill="#000"/>
<circle cx="50.50" cy="801.90" r="1.89" fill="#000"/>
<line x1="83.50" y1="776.90" x2="83.50" y2="785.80" stroke="#2c3590" stroke-width="0.75"/>
<line x1="80.50" y1="776.90" x2="86.50" y2="776.90" stroke="#2c3590" stroke-width="0.75"/>
<line x1="80.50" y1="785.80" x2="86.50" y2="785.80" stroke="#2c3590" stroke-width="0.75"/>
<line x1="78.80" y1="781.70" x2="90.10" y2="781.70" stroke="#231f20" stroke-width="0.90"/>
<circle cx="84.10" cy="765.90" r="1.89" fill="#2c3590"/>
<circle cx="84.10" cy="770.70" r="1.89" fill="#2c3590"/>
<circle cx="83.50" cy="785.80" r="1.89" fill="#2c3590"/>
<circle cx="79.70" cy="794.40" r="1.89" fill="#2c3590"/>
<circle cx="88.40" cy="792.10" r="1.89" fill="#2c3590"/>
<line x1="107.80" y1="772.00" x2="107.80" y2="784.30" stroke="#ec2027" stroke-width="0.75"/>
<line x1="104.80" y1="772.00" x2="110.80" y2="772.00" stroke="#ec2027" stroke-width="0.75"/>
<line x1="104.80" y1="784.30" x2="110.80" y2="784.30" stroke="#ec2027" stroke-width="0.75"/>
<rect x="106.08" y="741.38" width="3.45" height="3.45" fill="#ec2027"/>
<rect x="106.08" y="761.38" width="3.45" height="3.45" fill="#ec2027"/>
<rect x="106.08" y="776.57" width="3.45" height="3.45" fill="#ec2027"/>
<rect x="110.28" y="773.67" width="3.45" height="3.45" fill="#ec2027"/>
<rect x="101.68" y="791.67" width="3.45" height="3.45" fill="#ec2027"/>
<rect x="106.08" y="787.88" width="3.45" height="3.45" fill="#ec2027"/>
<rect x="110.28" y="790.38" width="3.45" height="3.45" fill="#ec2027"/>
<line x1="102.50" y1="778.30" x2="113.90" y2="778.30" stroke="#231f20" stroke-width="0.90"/>
<text x="48.60" y="818.20" font-size="8.00" text-anchor="end" stroke="#231f20" stroke-width="0.16" transform="rotate(-45.0 48.60 818.20)">PBS</text>
<text x="83.80" y="818.20" font-size="8.00" text-anchor="end" stroke="#231f20" stroke-width="0.16" transform="rotate(-45.0 83.80 818.20)">DCP-IL-12/EVIR + αPD-1</text>
<text x="107.40" y="818.20" font-size="8.00" text-anchor="end" stroke="#231f20" stroke-width="0.16" transform="rotate(-45.0 107.40 818.20)">DCP-IL-12/EVIR</text>
<text x="112.61" y="827.84" font-size="8.00" text-anchor="end" stroke="#231f20" stroke-width="0.16" transform="rotate(-45.0 112.61 827.84)">+ αPD-1/CD8a</text>
<text x="155.60" y="718.60" font-size="8.00" stroke="#231f20" stroke-width="0.16">Tumour: M2-like macrophages</text>
<line x1="168.50" y1="728.05" x2="168.50" y2="811.95" stroke="#231f20" stroke-width="0.90"/>
<line x1="164.90" y1="728.50" x2="168.50" y2="728.50" stroke="#231f20" stroke-width="0.90"/>
<text x="164.80" y="731.05" font-size="8.20" text-anchor="end" stroke="#231f20" stroke-width="0.16">60</text>
<line x1="164.90" y1="755.50" x2="168.50" y2="755.50" stroke="#231f20" stroke-width="0.90"/>
<text x="164.80" y="758.55" font-size="8.20" text-anchor="end" stroke="#231f20" stroke-width="0.16">40</text>
<line x1="164.90" y1="783.50" x2="168.50" y2="783.50" stroke="#231f20" stroke-width="0.90"/>
<text x="164.80" y="786.45" font-size="8.20" text-anchor="end" stroke="#231f20" stroke-width="0.16">20</text>
<line x1="164.90" y1="811.50" x2="168.50" y2="811.50" stroke="#231f20" stroke-width="0.90"/>
<text x="164.80" y="814.25" font-size="8.20" text-anchor="end" stroke="#231f20" stroke-width="0.16">0</text>
<line x1="168.05" y1="811.50" x2="252.40" y2="811.50" stroke="#231f20" stroke-width="0.90"/>
<line x1="180.50" y1="811.50" x2="180.50" y2="815.70" stroke="#231f20" stroke-width="0.90"/>
<line x1="216.50" y1="811.50" x2="216.50" y2="815.70" stroke="#231f20" stroke-width="0.90"/>
<line x1="239.50" y1="811.50" x2="239.50" y2="815.70" stroke="#231f20" stroke-width="0.90"/>
<line x1="198.30" y1="728.20" x2="198.30" y2="809.50" stroke="#231f20" stroke-width="1.35" stroke-dasharray="0.01 4.97" stroke-linecap="round"/>
<text x="142.40" y="767.00" font-size="8.00" text-anchor="middle" stroke="#231f20" stroke-width="0.16" transform="rotate(-90.0 142.40 767.00)" letter-spacing="0.10">MRC1<tspan dy="-3.04" font-size="4.80">+</tspan><tspan dy="3.04"> macrophages</tspan></text>
<text x="152.40" y="767.80" font-size="8.00" text-anchor="middle" stroke="#231f20" stroke-width="0.16" transform="rotate(-90.0 152.40 767.80)" letter-spacing="0.17">(% of CD45<tspan dy="-3.04" font-size="4.80">+</tspan><tspan dy="3.04"> cells)</tspan></text>
<polyline points="180.50,736.10 180.50,732.50 225.50,732.50 225.50,735.70" fill="none" stroke="#2b2b2d" stroke-width="0.85"/>
<line x1="212.60" y1="735.70" x2="240.10" y2="735.70" stroke="#231f20" stroke-width="0.75"/>
<text x="216.20" y="728.10" font-size="8.00" text-anchor="middle" stroke="#231f20" stroke-width="0.16">&lt;0.0001</text>
<line x1="180.30" y1="754.70" x2="180.30" y2="764.10" stroke="#000" stroke-width="0.75"/>
<line x1="177.30" y1="754.70" x2="183.30" y2="754.70" stroke="#000" stroke-width="0.75"/>
<line x1="177.30" y1="764.10" x2="183.30" y2="764.10" stroke="#000" stroke-width="0.75"/>
<circle cx="175.90" cy="740.40" r="1.89" fill="#000"/>
<circle cx="184.70" cy="740.40" r="1.89" fill="#000"/>
<circle cx="180.30" cy="755.00" r="1.89" fill="#000"/>
<circle cx="175.90" cy="758.80" r="1.89" fill="#000"/>
<circle cx="184.70" cy="761.70" r="1.89" fill="#000"/>
<circle cx="175.90" cy="769.30" r="1.89" fill="#000"/>
<circle cx="184.70" cy="770.60" r="1.89" fill="#000"/>
<circle cx="180.30" cy="778.20" r="1.89" fill="#000"/>
<line x1="176.50" y1="760.40" x2="186.60" y2="760.40" stroke="#231f20" stroke-width="0.90"/>
<line x1="210.70" y1="791.50" x2="222.60" y2="791.50" stroke="#231f20" stroke-width="0.90"/>
<circle cx="212.00" cy="788.80" r="1.89" fill="#2c3590"/>
<circle cx="216.40" cy="789.20" r="1.89" fill="#2c3590"/>
<circle cx="220.70" cy="789.20" r="1.89" fill="#2c3590"/>
<circle cx="214.20" cy="790.80" r="1.89" fill="#2c3590"/>
<circle cx="216.40" cy="799.60" r="1.89" fill="#2c3590"/>
<line x1="239.70" y1="787.00" x2="239.70" y2="797.50" stroke="#ec2027" stroke-width="0.75"/>
<line x1="236.70" y1="787.00" x2="242.70" y2="787.00" stroke="#ec2027" stroke-width="0.75"/>
<line x1="236.70" y1="797.50" x2="242.70" y2="797.50" stroke="#ec2027" stroke-width="0.75"/>
<rect x="233.58" y="777.98" width="3.45" height="3.45" fill="#ec2027"/>
<rect x="242.58" y="777.07" width="3.45" height="3.45" fill="#ec2027"/>
<rect x="242.58" y="785.57" width="3.45" height="3.45" fill="#ec2027"/>
<rect x="233.58" y="787.48" width="3.45" height="3.45" fill="#ec2027"/>
<rect x="237.97" y="793.17" width="3.45" height="3.45" fill="#ec2027"/>
<rect x="242.58" y="800.77" width="3.45" height="3.45" fill="#ec2027"/>
<rect x="233.58" y="803.57" width="3.45" height="3.45" fill="#ec2027"/>
<line x1="234.40" y1="792.40" x2="246.20" y2="792.40" stroke="#231f20" stroke-width="0.90"/>
<text x="181.80" y="818.20" font-size="8.00" text-anchor="end" stroke="#231f20" stroke-width="0.16" transform="rotate(-45.0 181.80 818.20)">PBS</text>
<text x="217.20" y="818.20" font-size="8.00" text-anchor="end" stroke="#231f20" stroke-width="0.16" transform="rotate(-45.0 217.20 818.20)">DCP-IL-12/EVIR + αPD-1</text>
<text x="240.20" y="818.20" font-size="8.00" text-anchor="end" stroke="#231f20" stroke-width="0.16" transform="rotate(-45.0 240.20 818.20)">DCP-IL-12/EVIR</text>
<text x="245.41" y="827.84" font-size="8.00" text-anchor="end" stroke="#231f20" stroke-width="0.16" transform="rotate(-45.0 245.41 827.84)">+ αPD-1/CD8a</text>
<text x="278.30" y="708.00" font-size="10.50" fill="#000" stroke="#000" stroke-width="0.16" font-weight="bold">j</text>
<text x="326.00" y="717.50" font-size="8.00" text-anchor="middle" stroke="#231f20" stroke-width="0.16">Tumour: PBS + αPD-1</text>
<path d="M326.00,776.40 L331.89,734.51 A42.30,42.30 0 0 1 346.18,739.23 Z" fill="#e8638f" stroke="#fff" stroke-width="0.50"/>
<path d="M326.00,776.40 L346.18,739.23 A42.30,42.30 0 0 1 360.69,752.20 Z" fill="#1fab58" stroke="#fff" stroke-width="0.50"/>
<path d="M326.00,776.40 L360.69,752.20 A42.30,42.30 0 0 1 319.02,818.12 Z" fill="#05522a" stroke="#fff" stroke-width="0.50"/>
<path d="M326.00,776.40 L319.02,818.12 A42.30,42.30 0 0 1 309.81,815.48 Z" fill="#eaa96f" stroke="#fff" stroke-width="0.50"/>
<path d="M326.00,776.40 L309.81,815.48 A42.30,42.30 0 0 1 295.57,805.78 Z" fill="#7b4119" stroke="#fff" stroke-width="0.50"/>
<path d="M326.00,776.40 L295.57,805.78 A42.30,42.30 0 0 1 326.00,734.10 Z" fill="#939598" stroke="#fff" stroke-width="0.50"/>
<path d="M326.21,773.41 L326.21,725.91 A47.50,47.50 0 0 1 332.82,726.37 Z" fill="#e41e30" stroke="#fff" stroke-width="0.60"/>
<text x="429.20" y="712.40" font-size="8.00" text-anchor="middle" stroke="#231f20" stroke-width="0.16">Tumour: DCP-IL-12/EVIR</text>
<text x="429.20" y="721.30" font-size="8.00" text-anchor="middle" stroke="#231f20" stroke-width="0.16">+ αPD-1</text>
<path d="M429.20,776.40 L444.36,736.91 A42.30,42.30 0 0 1 457.94,745.36 Z" fill="#e8638f" stroke="#fff" stroke-width="0.50"/>
<path d="M429.20,776.40 L457.94,745.36 A42.30,42.30 0 0 1 465.57,798.00 Z" fill="#1fab58" stroke="#fff" stroke-width="0.50"/>
<path d="M429.20,776.40 L465.57,798.00 A42.30,42.30 0 0 1 435.53,818.22 Z" fill="#05522a" stroke="#fff" stroke-width="0.50"/>
<path d="M429.20,776.40 L435.53,818.22 A42.30,42.30 0 0 1 426.03,818.58 Z" fill="#eaa96f" stroke="#fff" stroke-width="0.50"/>
<path d="M429.20,776.40 L426.03,818.58 A42.30,42.30 0 0 1 418.25,817.26 Z" fill="#7b4119" stroke="#fff" stroke-width="0.50"/>
<path d="M429.20,776.40 L418.25,817.26 A42.30,42.30 0 0 1 429.20,734.10 Z" fill="#939598" stroke="#fff" stroke-width="0.50"/>
<path d="M429.75,773.45 L429.75,725.95 A47.50,47.50 0 0 1 446.77,729.11 Z" fill="#e41e30" stroke="#fff" stroke-width="0.60"/>
<text x="534.40" y="712.40" font-size="8.00" text-anchor="middle" stroke="#231f20" stroke-width="0.16">Tumour: DCP-IL-12/EVIR</text>
<text x="534.40" y="721.30" font-size="8.00" text-anchor="middle" stroke="#231f20" stroke-width="0.16">+ αPD-1/CD8a</text>
<path d="M534.40,776.70 L538.08,734.66 A42.20,42.20 0 0 1 550.75,737.80 Z" fill="#e8638f" stroke="#fff" stroke-width="0.50"/>
<path d="M534.40,776.70 L550.75,737.80 A42.20,42.20 0 0 1 574.20,790.72 Z" fill="#1fab58" stroke="#fff" stroke-width="0.50"/>
<path d="M534.40,776.70 L574.20,790.72 A42.20,42.20 0 0 1 549.39,816.15 Z" fill="#05522a" stroke="#fff" stroke-width="0.50"/>
<path d="M534.40,776.70 L549.39,816.15 A42.20,42.20 0 0 1 527.58,818.35 Z" fill="#eaa96f" stroke="#fff" stroke-width="0.50"/>
<path d="M534.40,776.70 L527.58,818.35 A42.20,42.20 0 0 1 515.90,814.63 Z" fill="#7b4119" stroke="#fff" stroke-width="0.50"/>
<path d="M534.40,776.70 L515.90,814.63 A42.20,42.20 0 0 1 534.40,734.50 Z" fill="#939598" stroke="#fff" stroke-width="0.50"/>
<path d="M534.53,773.70 L534.53,726.20 A47.50,47.50 0 0 1 538.67,726.38 Z" fill="#e41e30" stroke="#fff" stroke-width="0.60"/>
<rect x="589.80" y="737.40" width="10.20" height="4.20" fill="#e41e30"/>
<text x="607.30" y="742.50" font-size="8.20" stroke="#231f20" stroke-width="0.16">CD8<tspan dy="-3.12" font-size="4.92">+</tspan><tspan dy="3.12"> T cells</tspan></text>
<rect x="589.80" y="749.80" width="10.20" height="4.20" fill="#e8638f"/>
<text x="607.30" y="754.90" font-size="8.20" stroke="#231f20" stroke-width="0.16">CD4<tspan dy="-3.12" font-size="4.92">+</tspan><tspan dy="3.12"> T cells</tspan></text>
<rect x="589.80" y="762.00" width="10.20" height="4.20" fill="#1fab58"/>
<text x="607.30" y="767.10" font-size="8.20" stroke="#231f20" stroke-width="0.16">M1-like macrophages</text>
<rect x="589.80" y="774.30" width="10.20" height="4.20" fill="#05522a"/>
<text x="607.30" y="779.40" font-size="8.20" stroke="#231f20" stroke-width="0.16">M2-like macrophages</text>
<rect x="589.80" y="786.50" width="10.20" height="4.20" fill="#eaa96f"/>
<text x="607.30" y="791.60" font-size="8.20" stroke="#231f20" stroke-width="0.16">Monocytes</text>
<rect x="589.80" y="798.80" width="10.20" height="4.20" fill="#7b4119"/>
<text x="607.30" y="803.90" font-size="8.20" stroke="#231f20" stroke-width="0.16">Neutrophils</text>
<rect x="589.80" y="810.60" width="10.20" height="4.20" fill="#939598"/>
<text x="607.30" y="815.70" font-size="8.20" stroke="#231f20" stroke-width="0.16">Other cells</text>
</svg>
</body></html>
